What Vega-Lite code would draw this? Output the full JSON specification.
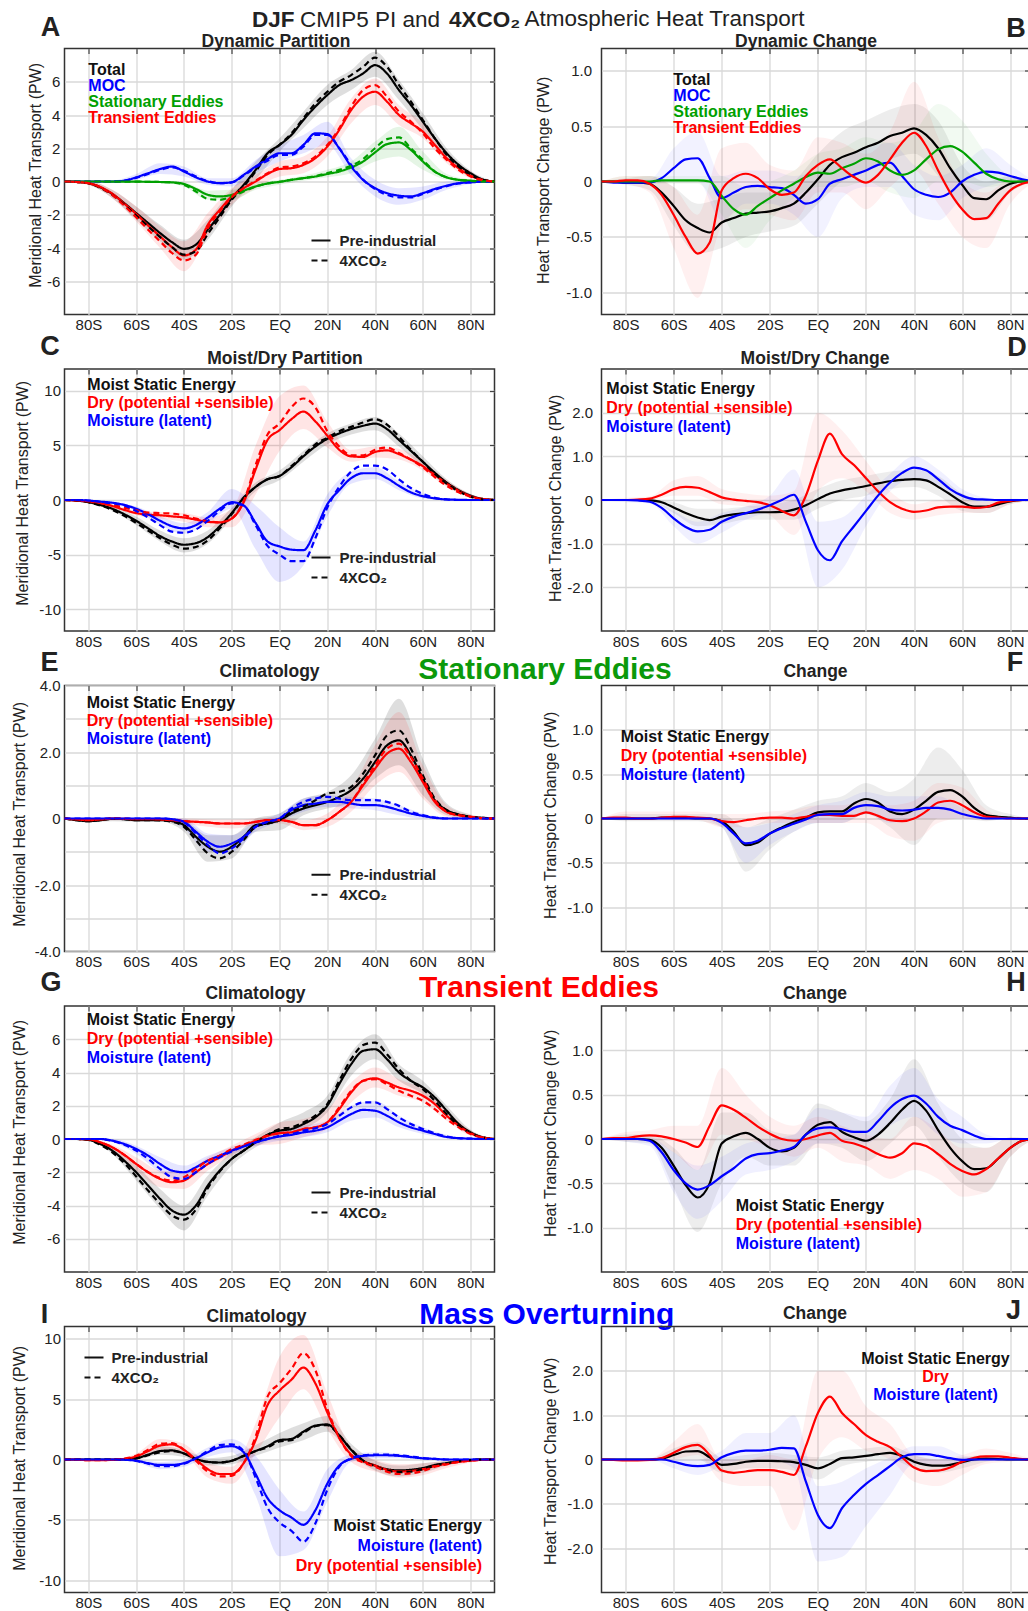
{
"$schema": "https://vega.github.io/schema/vega-lite/v6.json",
"padding": {"left": 9.5, "top": 6.5, "right": 0, "bottom": 0},
"background": "white",
"config": {
  "font": "Liberation Sans",
  "view": {"stroke": "#333333", "strokeWidth": 1.5},
  "axis": {"labelFont": "Liberation Sans", "titleFont": "Liberation Sans", "labelColor": "#222222", "titleColor": "#222222", "gridColor": "#d9d9d9", "gridWidth": 1.3, "domain": false, "ticks": false, "tickColor": "#444444", "tickWidth": 1.2, "labelFontSize": 15, "titleLimit": 800, "labelLimit": 200},
  "legend": {"labelFont": "Liberation Sans", "titleFont": "Liberation Sans", "padding": 0, "labelLimit": 800, "titleLimit": 800}
},
"datasets": {
"A_pi": [
{"lat":-90,"Total":0,"MOC":0,"Stationary Eddies":0,"Transient Eddies":0},
{"lat":-85,"Total":-0.03,"MOC":0,"Stationary Eddies":0,"Transient Eddies":-0.03},
{"lat":-80,"Total":-0.1,"MOC":0,"Stationary Eddies":0,"Transient Eddies":-0.1},
{"lat":-75,"Total":-0.35,"MOC":0,"Stationary Eddies":0,"Transient Eddies":-0.33},
{"lat":-70,"Total":-0.75,"MOC":0,"Stationary Eddies":-0.01,"Transient Eddies":-0.73},
{"lat":-65,"Total":-1.3,"MOC":0.05,"Stationary Eddies":-0.01,"Transient Eddies":-1.33},
{"lat":-60,"Total":-1.9,"MOC":0.25,"Stationary Eddies":-0.01,"Transient Eddies":-1.95},
{"lat":-55,"Total":-2.5,"MOC":0.5,"Stationary Eddies":-0.02,"Transient Eddies":-2.65},
{"lat":-50,"Total":-3.1,"MOC":0.75,"Stationary Eddies":-0.03,"Transient Eddies":-3.3},
{"lat":-45,"Total":-3.65,"MOC":0.9,"Stationary Eddies":-0.05,"Transient Eddies":-3.95},
{"lat":-40,"Total":-4.05,"MOC":0.6,"Stationary Eddies":-0.15,"Transient Eddies":-4.45},
{"lat":-35,"Total":-3.8,"MOC":0.25,"Stationary Eddies":-0.45,"Transient Eddies":-4.1},
{"lat":-30,"Total":-2.9,"MOC":0,"Stationary Eddies":-0.8,"Transient Eddies":-2.6},
{"lat":-25,"Total":-2,"MOC":-0.1,"Stationary Eddies":-0.9,"Transient Eddies":-1.7},
{"lat":-20,"Total":-1,"MOC":-0.05,"Stationary Eddies":-0.8,"Transient Eddies":-0.9},
{"lat":-15,"Total":-0.2,"MOC":0.4,"Stationary Eddies":-0.55,"Transient Eddies":-0.4},
{"lat":-10,"Total":0.7,"MOC":0.9,"Stationary Eddies":-0.3,"Transient Eddies":0},
{"lat":-5,"Total":1.7,"MOC":1.35,"Stationary Eddies":-0.12,"Transient Eddies":0.45},
{"lat":0,"Total":2.2,"MOC":1.7,"Stationary Eddies":-0.02,"Transient Eddies":0.75},
{"lat":5,"Total":2.8,"MOC":1.7,"Stationary Eddies":0.1,"Transient Eddies":0.8},
{"lat":10,"Total":3.7,"MOC":2.2,"Stationary Eddies":0.2,"Transient Eddies":1},
{"lat":15,"Total":4.5,"MOC":2.9,"Stationary Eddies":0.3,"Transient Eddies":1.4},
{"lat":20,"Total":5.2,"MOC":2.85,"Stationary Eddies":0.45,"Transient Eddies":2.1},
{"lat":25,"Total":5.8,"MOC":2,"Stationary Eddies":0.6,"Transient Eddies":3.1},
{"lat":30,"Total":6.1,"MOC":0.9,"Stationary Eddies":0.85,"Transient Eddies":4.3},
{"lat":35,"Total":6.5,"MOC":0.1,"Stationary Eddies":1.2,"Transient Eddies":5.1},
{"lat":40,"Total":7,"MOC":-0.4,"Stationary Eddies":1.75,"Transient Eddies":5.4},
{"lat":45,"Total":6.5,"MOC":-0.7,"Stationary Eddies":2.25,"Transient Eddies":4.8},
{"lat":50,"Total":5.5,"MOC":-0.85,"Stationary Eddies":2.35,"Transient Eddies":4},
{"lat":55,"Total":4.6,"MOC":-0.9,"Stationary Eddies":1.9,"Transient Eddies":3.5},
{"lat":60,"Total":3.6,"MOC":-0.7,"Stationary Eddies":1.2,"Transient Eddies":3},
{"lat":65,"Total":2.6,"MOC":-0.45,"Stationary Eddies":0.6,"Transient Eddies":2.2},
{"lat":70,"Total":1.7,"MOC":-0.25,"Stationary Eddies":0.25,"Transient Eddies":1.4},
{"lat":75,"Total":1,"MOC":-0.1,"Stationary Eddies":0.1,"Transient Eddies":0.8},
{"lat":80,"Total":0.5,"MOC":-0.05,"Stationary Eddies":0.05,"Transient Eddies":0.35},
{"lat":85,"Total":0.12,"MOC":-0.01,"Stationary Eddies":0.01,"Transient Eddies":0.1},
{"lat":90,"Total":0,"MOC":0,"Stationary Eddies":0,"Transient Eddies":0}
],
"A_4x": [
{"lat":-90,"Total":0,"MOC":0,"Stationary Eddies":0,"Transient Eddies":0},
{"lat":-85,"Total":-0.03,"MOC":0,"Stationary Eddies":0,"Transient Eddies":-0.03},
{"lat":-80,"Total":-0.1,"MOC":0,"Stationary Eddies":0,"Transient Eddies":-0.1},
{"lat":-75,"Total":-0.38,"MOC":0,"Stationary Eddies":0,"Transient Eddies":-0.36},
{"lat":-70,"Total":-0.8,"MOC":0,"Stationary Eddies":-0.01,"Transient Eddies":-0.8},
{"lat":-65,"Total":-1.4,"MOC":0.05,"Stationary Eddies":-0.01,"Transient Eddies":-1.45},
{"lat":-60,"Total":-2.05,"MOC":0.22,"Stationary Eddies":-0.01,"Transient Eddies":-2.15},
{"lat":-55,"Total":-2.7,"MOC":0.45,"Stationary Eddies":-0.02,"Transient Eddies":-2.9},
{"lat":-50,"Total":-3.35,"MOC":0.7,"Stationary Eddies":-0.03,"Transient Eddies":-3.6},
{"lat":-45,"Total":-3.95,"MOC":0.85,"Stationary Eddies":-0.06,"Transient Eddies":-4.3},
{"lat":-40,"Total":-4.4,"MOC":0.65,"Stationary Eddies":-0.2,"Transient Eddies":-4.75},
{"lat":-35,"Total":-4.2,"MOC":0.3,"Stationary Eddies":-0.6,"Transient Eddies":-4.4},
{"lat":-30,"Total":-3.15,"MOC":0.02,"Stationary Eddies":-1.05,"Transient Eddies":-2.8},
{"lat":-25,"Total":-2.15,"MOC":-0.1,"Stationary Eddies":-1.1,"Transient Eddies":-1.8},
{"lat":-20,"Total":-1.1,"MOC":-0.05,"Stationary Eddies":-0.9,"Transient Eddies":-0.95},
{"lat":-15,"Total":-0.3,"MOC":0.35,"Stationary Eddies":-0.6,"Transient Eddies":-0.4},
{"lat":-10,"Total":0.6,"MOC":0.85,"Stationary Eddies":-0.3,"Transient Eddies":0.05},
{"lat":-5,"Total":1.6,"MOC":1.25,"Stationary Eddies":-0.12,"Transient Eddies":0.5},
{"lat":0,"Total":2.2,"MOC":1.6,"Stationary Eddies":-0.02,"Transient Eddies":0.85},
{"lat":5,"Total":2.9,"MOC":1.6,"Stationary Eddies":0.1,"Transient Eddies":0.9},
{"lat":10,"Total":3.8,"MOC":2.1,"Stationary Eddies":0.2,"Transient Eddies":1.1},
{"lat":15,"Total":4.7,"MOC":2.8,"Stationary Eddies":0.32,"Transient Eddies":1.5},
{"lat":20,"Total":5.4,"MOC":2.8,"Stationary Eddies":0.5,"Transient Eddies":2.2},
{"lat":25,"Total":6,"MOC":2,"Stationary Eddies":0.7,"Transient Eddies":3.2},
{"lat":30,"Total":6.4,"MOC":1,"Stationary Eddies":0.95,"Transient Eddies":4.5},
{"lat":35,"Total":6.9,"MOC":0.1,"Stationary Eddies":1.35,"Transient Eddies":5.5},
{"lat":40,"Total":7.45,"MOC":-0.45,"Stationary Eddies":2,"Transient Eddies":5.8},
{"lat":45,"Total":6.9,"MOC":-0.8,"Stationary Eddies":2.55,"Transient Eddies":5.1},
{"lat":50,"Total":5.8,"MOC":-0.95,"Stationary Eddies":2.65,"Transient Eddies":4.2},
{"lat":55,"Total":4.8,"MOC":-0.95,"Stationary Eddies":2,"Transient Eddies":3.6},
{"lat":60,"Total":3.7,"MOC":-0.75,"Stationary Eddies":1.3,"Transient Eddies":2.9},
{"lat":65,"Total":2.6,"MOC":-0.5,"Stationary Eddies":0.6,"Transient Eddies":2},
{"lat":70,"Total":1.6,"MOC":-0.28,"Stationary Eddies":0.25,"Transient Eddies":1.3},
{"lat":75,"Total":0.9,"MOC":-0.12,"Stationary Eddies":0.1,"Transient Eddies":0.7},
{"lat":80,"Total":0.4,"MOC":-0.05,"Stationary Eddies":0.04,"Transient Eddies":0.3},
{"lat":85,"Total":0.1,"MOC":-0.01,"Stationary Eddies":0.01,"Transient Eddies":0.08},
{"lat":90,"Total":0,"MOC":0,"Stationary Eddies":0,"Transient Eddies":0}
],
"A_sp": [
{"lat":-90,"t_lo":0,"t_hi":0,"e_lo":0,"e_hi":0,"m_lo":0,"m_hi":0,"s_lo":0,"s_hi":0},
{"lat":-80,"t_lo":-0.2,"t_hi":0,"e_lo":-0.2,"e_hi":0,"m_lo":0,"m_hi":0,"s_lo":-0.05,"s_hi":0.03},
{"lat":-70,"t_lo":-1,"t_hi":-0.5,"e_lo":-1,"e_hi":-0.5,"m_lo":-0.05,"m_hi":0.05,"s_lo":-0.05,"s_hi":0.03},
{"lat":-60,"t_lo":-2.3,"t_hi":-1.5,"e_lo":-2.4,"e_hi":-1.5,"m_lo":0.1,"m_hi":0.45,"s_lo":-0.05,"s_hi":0.03},
{"lat":-50,"t_lo":-3.6,"t_hi":-2.6,"e_lo":-4,"e_hi":-2.7,"m_lo":0.45,"m_hi":1.1,"s_lo":-0.08,"s_hi":0.02},
{"lat":-40,"t_lo":-4.7,"t_hi":-3.5,"e_lo":-5.4,"e_hi":-3.6,"m_lo":0.3,"m_hi":0.9,"s_lo":-0.3,"s_hi":-0.05},
{"lat":-30,"t_lo":-3.5,"t_hi":-2.3,"e_lo":-3.3,"e_hi":-1.9,"m_lo":-0.2,"m_hi":0.2,"s_lo":-1.1,"s_hi":-0.55},
{"lat":-20,"t_lo":-1.5,"t_hi":-0.5,"e_lo":-1.4,"e_hi":-0.4,"m_lo":-0.3,"m_hi":0.2,"s_lo":-1.1,"s_hi":-0.5},
{"lat":-10,"t_lo":0.1,"t_hi":1.2,"e_lo":-0.4,"e_hi":0.4,"m_lo":0.5,"m_hi":1.3,"s_lo":-0.5,"s_hi":-0.1},
{"lat":0,"t_lo":1.8,"t_hi":2.6,"e_lo":0.3,"e_hi":1.2,"m_lo":1.2,"m_hi":2.2,"s_lo":-0.2,"s_hi":0.1},
{"lat":10,"t_lo":3.2,"t_hi":4.2,"e_lo":0.5,"e_hi":1.5,"m_lo":1.7,"m_hi":2.8,"s_lo":0.05,"s_hi":0.35},
{"lat":20,"t_lo":4.6,"t_hi":5.8,"e_lo":1.5,"e_hi":2.7,"m_lo":2.2,"m_hi":3.6,"s_lo":0.25,"s_hi":0.7},
{"lat":30,"t_lo":5.5,"t_hi":6.7,"e_lo":3.5,"e_hi":5,"m_lo":0.4,"m_hi":1.4,"s_lo":0.5,"s_hi":1.2},
{"lat":40,"t_lo":6.3,"t_hi":7.8,"e_lo":4.6,"e_hi":6.2,"m_lo":-0.9,"m_hi":0.1,"s_lo":1.2,"s_hi":2.4},
{"lat":50,"t_lo":4.9,"t_hi":6.1,"e_lo":3.4,"e_hi":4.6,"m_lo":-1.4,"m_hi":-0.4,"s_lo":1.5,"s_hi":3.3},
{"lat":60,"t_lo":3.1,"t_hi":4.1,"e_lo":2.6,"e_hi":3.5,"m_lo":-1.1,"m_hi":-0.3,"s_lo":0.7,"s_hi":1.8},
{"lat":70,"t_lo":1.4,"t_hi":2,"e_lo":1.1,"e_hi":1.7,"m_lo":-0.5,"m_hi":0,"s_lo":0.1,"s_hi":0.45},
{"lat":80,"t_lo":0.35,"t_hi":0.65,"e_lo":0.2,"e_hi":0.5,"m_lo":-0.15,"m_hi":0.05,"s_lo":0,"s_hi":0.12},
{"lat":90,"t_lo":0,"t_hi":0,"e_lo":0,"e_hi":0,"m_lo":0,"m_hi":0,"s_lo":0,"s_hi":0}
],
"B": [
{"lat":-90,"Total":0,"MOC":0,"Stationary Eddies":0,"Transient Eddies":0},
{"lat":-85,"Total":0,"MOC":-0.01,"Stationary Eddies":0,"Transient Eddies":0},
{"lat":-80,"Total":-0.01,"MOC":-0.01,"Stationary Eddies":0,"Transient Eddies":0.01},
{"lat":-75,"Total":-0.01,"MOC":-0.01,"Stationary Eddies":0,"Transient Eddies":0.01},
{"lat":-70,"Total":-0.02,"MOC":-0.01,"Stationary Eddies":0,"Transient Eddies":-0.02},
{"lat":-65,"Total":-0.1,"MOC":0.03,"Stationary Eddies":0.01,"Transient Eddies":-0.12},
{"lat":-60,"Total":-0.22,"MOC":0.12,"Stationary Eddies":0.01,"Transient Eddies":-0.3},
{"lat":-55,"Total":-0.35,"MOC":0.2,"Stationary Eddies":0.01,"Transient Eddies":-0.5},
{"lat":-50,"Total":-0.42,"MOC":0.21,"Stationary Eddies":0.01,"Transient Eddies":-0.65},
{"lat":-45,"Total":-0.46,"MOC":0.03,"Stationary Eddies":0,"Transient Eddies":-0.55},
{"lat":-40,"Total":-0.37,"MOC":-0.15,"Stationary Eddies":-0.13,"Transient Eddies":-0.08},
{"lat":-35,"Total":-0.33,"MOC":-0.1,"Stationary Eddies":-0.25,"Transient Eddies":0.03},
{"lat":-30,"Total":-0.29,"MOC":-0.05,"Stationary Eddies":-0.3,"Transient Eddies":0.07},
{"lat":-25,"Total":-0.28,"MOC":-0.04,"Stationary Eddies":-0.22,"Transient Eddies":0.03},
{"lat":-20,"Total":-0.27,"MOC":-0.05,"Stationary Eddies":-0.15,"Transient Eddies":-0.07},
{"lat":-15,"Total":-0.24,"MOC":-0.06,"Stationary Eddies":-0.08,"Transient Eddies":-0.12},
{"lat":-10,"Total":-0.2,"MOC":-0.12,"Stationary Eddies":-0.02,"Transient Eddies":-0.1},
{"lat":-5,"Total":-0.1,"MOC":-0.2,"Stationary Eddies":0.04,"Transient Eddies":0.05},
{"lat":0,"Total":0.02,"MOC":-0.16,"Stationary Eddies":0.08,"Transient Eddies":0.15},
{"lat":5,"Total":0.15,"MOC":-0.02,"Stationary Eddies":0.07,"Transient Eddies":0.2},
{"lat":10,"Total":0.22,"MOC":0.02,"Stationary Eddies":0.12,"Transient Eddies":0.12},
{"lat":15,"Total":0.26,"MOC":0.06,"Stationary Eddies":0.16,"Transient Eddies":0.04},
{"lat":20,"Total":0.31,"MOC":0.1,"Stationary Eddies":0.21,"Transient Eddies":-0.01},
{"lat":25,"Total":0.35,"MOC":0.15,"Stationary Eddies":0.18,"Transient Eddies":0.06},
{"lat":30,"Total":0.41,"MOC":0.17,"Stationary Eddies":0.1,"Transient Eddies":0.2},
{"lat":35,"Total":0.44,"MOC":0.05,"Stationary Eddies":0.06,"Transient Eddies":0.35},
{"lat":40,"Total":0.48,"MOC":-0.07,"Stationary Eddies":0.1,"Transient Eddies":0.44},
{"lat":45,"Total":0.42,"MOC":-0.12,"Stationary Eddies":0.2,"Transient Eddies":0.32},
{"lat":50,"Total":0.3,"MOC":-0.14,"Stationary Eddies":0.29,"Transient Eddies":0.1},
{"lat":55,"Total":0.12,"MOC":-0.1,"Stationary Eddies":0.32,"Transient Eddies":-0.1},
{"lat":60,"Total":-0.03,"MOC":0,"Stationary Eddies":0.27,"Transient Eddies":-0.25},
{"lat":65,"Total":-0.15,"MOC":0.06,"Stationary Eddies":0.17,"Transient Eddies":-0.34},
{"lat":70,"Total":-0.16,"MOC":0.09,"Stationary Eddies":0.07,"Transient Eddies":-0.33},
{"lat":75,"Total":-0.08,"MOC":0.08,"Stationary Eddies":0.02,"Transient Eddies":-0.2},
{"lat":80,"Total":-0.02,"MOC":0.05,"Stationary Eddies":0,"Transient Eddies":-0.08},
{"lat":85,"Total":0,"MOC":0.02,"Stationary Eddies":0,"Transient Eddies":-0.02},
{"lat":90,"Total":0,"MOC":0,"Stationary Eddies":0,"Transient Eddies":0}
],
"B_sp": [
{"lat":-90,"t_lo":0,"t_hi":0,"e_lo":0,"e_hi":0,"m_lo":0,"m_hi":0,"s_lo":0,"s_hi":0},
{"lat":-80,"t_lo":-0.03,"t_hi":0.03,"e_lo":-0.02,"e_hi":0.05,"m_lo":-0.02,"m_hi":0.02,"s_lo":-0.02,"s_hi":0.05},
{"lat":-70,"t_lo":-0.08,"t_hi":0.05,"e_lo":-0.1,"e_hi":0.05,"m_lo":-0.02,"m_hi":0.02,"s_lo":-0.02,"s_hi":0.05},
{"lat":-60,"t_lo":-0.4,"t_hi":-0.05,"e_lo":-0.6,"e_hi":-0.05,"m_lo":0,"m_hi":0.3,"s_lo":-0.02,"s_hi":0.05},
{"lat":-50,"t_lo":-0.65,"t_hi":-0.2,"e_lo":-1.05,"e_hi":-0.3,"m_lo":0,"m_hi":0.45,"s_lo":-0.02,"s_hi":0.05},
{"lat":-40,"t_lo":-0.6,"t_hi":-0.15,"e_lo":-0.4,"e_hi":0.3,"m_lo":-0.35,"m_hi":0.05,"s_lo":-0.3,"s_hi":0.05},
{"lat":-30,"t_lo":-0.5,"t_hi":-0.1,"e_lo":-0.25,"e_hi":0.35,"m_lo":-0.2,"m_hi":0.1,"s_lo":-0.6,"s_hi":-0.05},
{"lat":-20,"t_lo":-0.45,"t_hi":-0.1,"e_lo":-0.3,"e_hi":0.15,"m_lo":-0.2,"m_hi":0.1,"s_lo":-0.35,"s_hi":0},
{"lat":-10,"t_lo":-0.4,"t_hi":0,"e_lo":-0.35,"e_hi":0.1,"m_lo":-0.3,"m_hi":0.05,"s_lo":-0.15,"s_hi":0.1},
{"lat":0,"t_lo":-0.2,"t_hi":0.25,"e_lo":-0.1,"e_hi":0.4,"m_lo":-0.5,"m_hi":0.1,"s_lo":-0.05,"s_hi":0.25},
{"lat":10,"t_lo":0,"t_hi":0.45,"e_lo":-0.1,"e_hi":0.35,"m_lo":-0.15,"m_hi":0.2,"s_lo":-0.05,"s_hi":0.3},
{"lat":20,"t_lo":0.1,"t_hi":0.55,"e_lo":-0.25,"e_hi":0.25,"m_lo":-0.05,"m_hi":0.3,"s_lo":0,"s_hi":0.4},
{"lat":30,"t_lo":0.2,"t_hi":0.65,"e_lo":-0.05,"e_hi":0.45,"m_lo":-0.05,"m_hi":0.35,"s_lo":-0.1,"s_hi":0.35},
{"lat":40,"t_lo":0.25,"t_hi":0.7,"e_lo":0.1,"e_hi":0.9,"m_lo":-0.3,"m_hi":0.15,"s_lo":-0.15,"s_hi":0.45},
{"lat":50,"t_lo":0.05,"t_hi":0.55,"e_lo":-0.2,"e_hi":0.4,"m_lo":-0.35,"m_hi":0.05,"s_lo":0,"s_hi":0.7},
{"lat":60,"t_lo":-0.25,"t_hi":0.15,"e_lo":-0.5,"e_hi":0,"m_lo":-0.15,"m_hi":0.15,"s_lo":0,"s_hi":0.55},
{"lat":70,"t_lo":-0.35,"t_hi":0,"e_lo":-0.6,"e_hi":-0.1,"m_lo":-0.05,"m_hi":0.3,"s_lo":-0.05,"s_hi":0.25},
{"lat":80,"t_lo":-0.1,"t_hi":0.05,"e_lo":-0.2,"e_hi":0.02,"m_lo":0,"m_hi":0.15,"s_lo":-0.02,"s_hi":0.05},
{"lat":90,"t_lo":0,"t_hi":0,"e_lo":0,"e_hi":0,"m_lo":0,"m_hi":0,"s_lo":0,"s_hi":0}
],
"C_pi": [
{"lat":-90,"Moist Static Energy":0,"Dry (potential +sensible)":0,"Moisture (latent)":0},
{"lat":-85,"Moist Static Energy":-0.05,"Dry (potential +sensible)":-0.05,"Moisture (latent)":0},
{"lat":-80,"Moist Static Energy":-0.2,"Dry (potential +sensible)":-0.15,"Moisture (latent)":-0.05},
{"lat":-75,"Moist Static Energy":-0.45,"Dry (potential +sensible)":-0.3,"Moisture (latent)":-0.15},
{"lat":-70,"Moist Static Energy":-0.8,"Dry (potential +sensible)":-0.55,"Moisture (latent)":-0.25},
{"lat":-65,"Moist Static Energy":-1.3,"Dry (potential +sensible)":-0.9,"Moisture (latent)":-0.45},
{"lat":-60,"Moist Static Energy":-1.9,"Dry (potential +sensible)":-1.2,"Moisture (latent)":-0.8},
{"lat":-55,"Moist Static Energy":-2.6,"Dry (potential +sensible)":-1.35,"Moisture (latent)":-1.3},
{"lat":-50,"Moist Static Energy":-3.3,"Dry (potential +sensible)":-1.4,"Moisture (latent)":-1.9},
{"lat":-45,"Moist Static Energy":-3.8,"Dry (potential +sensible)":-1.5,"Moisture (latent)":-2.4},
{"lat":-40,"Moist Static Energy":-4.1,"Dry (potential +sensible)":-1.6,"Moisture (latent)":-2.6},
{"lat":-35,"Moist Static Energy":-3.95,"Dry (potential +sensible)":-1.8,"Moisture (latent)":-2.3},
{"lat":-30,"Moist Static Energy":-3.4,"Dry (potential +sensible)":-2,"Moisture (latent)":-1.6},
{"lat":-25,"Moist Static Energy":-2.4,"Dry (potential +sensible)":-2.05,"Moisture (latent)":-0.8},
{"lat":-20,"Moist Static Energy":-1.2,"Dry (potential +sensible)":-1.7,"Moisture (latent)":-0.2},
{"lat":-15,"Moist Static Energy":0.2,"Dry (potential +sensible)":-0.2,"Moisture (latent)":-0.5},
{"lat":-10,"Moist Static Energy":1.2,"Dry (potential +sensible)":2.8,"Moisture (latent)":-2.1},
{"lat":-5,"Moist Static Energy":1.9,"Dry (potential +sensible)":5.5,"Moisture (latent)":-3.8},
{"lat":0,"Moist Static Energy":2.2,"Dry (potential +sensible)":6.4,"Moisture (latent)":-4.25},
{"lat":5,"Moist Static Energy":3,"Dry (potential +sensible)":7.4,"Moisture (latent)":-4.55},
{"lat":10,"Moist Static Energy":4,"Dry (potential +sensible)":8.1,"Moisture (latent)":-4.6},
{"lat":15,"Moist Static Energy":4.9,"Dry (potential +sensible)":7.2,"Moisture (latent)":-2.8},
{"lat":20,"Moist Static Energy":5.6,"Dry (potential +sensible)":5.9,"Moisture (latent)":-0.4},
{"lat":25,"Moist Static Energy":6.1,"Dry (potential +sensible)":4.6,"Moisture (latent)":0.9},
{"lat":30,"Moist Static Energy":6.5,"Dry (potential +sensible)":4,"Moisture (latent)":2},
{"lat":35,"Moist Static Energy":6.8,"Dry (potential +sensible)":3.95,"Moisture (latent)":2.45},
{"lat":40,"Moist Static Energy":7,"Dry (potential +sensible)":4.4,"Moisture (latent)":2.45},
{"lat":45,"Moist Static Energy":6.5,"Dry (potential +sensible)":4.55,"Moisture (latent)":2},
{"lat":50,"Moist Static Energy":5.5,"Dry (potential +sensible)":4.2,"Moisture (latent)":1.3},
{"lat":55,"Moist Static Energy":4.5,"Dry (potential +sensible)":3.7,"Moisture (latent)":0.7},
{"lat":60,"Moist Static Energy":3.5,"Dry (potential +sensible)":3.1,"Moisture (latent)":0.35},
{"lat":65,"Moist Static Energy":2.5,"Dry (potential +sensible)":2.3,"Moisture (latent)":0.15},
{"lat":70,"Moist Static Energy":1.6,"Dry (potential +sensible)":1.5,"Moisture (latent)":0.05},
{"lat":75,"Moist Static Energy":0.9,"Dry (potential +sensible)":0.85,"Moisture (latent)":0.02},
{"lat":80,"Moist Static Energy":0.4,"Dry (potential +sensible)":0.35,"Moisture (latent)":0},
{"lat":85,"Moist Static Energy":0.1,"Dry (potential +sensible)":0.1,"Moisture (latent)":0},
{"lat":90,"Moist Static Energy":0,"Dry (potential +sensible)":0,"Moisture (latent)":0}
],
"C_4x": [
{"lat":-90,"Moist Static Energy":0,"Dry (potential +sensible)":0,"Moisture (latent)":0},
{"lat":-85,"Moist Static Energy":-0.05,"Dry (potential +sensible)":-0.04,"Moisture (latent)":0},
{"lat":-80,"Moist Static Energy":-0.2,"Dry (potential +sensible)":-0.12,"Moisture (latent)":-0.05},
{"lat":-75,"Moist Static Energy":-0.5,"Dry (potential +sensible)":-0.25,"Moisture (latent)":-0.17},
{"lat":-70,"Moist Static Energy":-0.9,"Dry (potential +sensible)":-0.45,"Moisture (latent)":-0.3},
{"lat":-65,"Moist Static Energy":-1.45,"Dry (potential +sensible)":-0.7,"Moisture (latent)":-0.5},
{"lat":-60,"Moist Static Energy":-2.1,"Dry (potential +sensible)":-0.95,"Moisture (latent)":-1},
{"lat":-55,"Moist Static Energy":-2.8,"Dry (potential +sensible)":-1.15,"Moisture (latent)":-1.6},
{"lat":-50,"Moist Static Energy":-3.5,"Dry (potential +sensible)":-1.2,"Moisture (latent)":-2.3},
{"lat":-45,"Moist Static Energy":-4.1,"Dry (potential +sensible)":-1.25,"Moisture (latent)":-2.9},
{"lat":-40,"Moist Static Energy":-4.45,"Dry (potential +sensible)":-1.4,"Moisture (latent)":-3},
{"lat":-35,"Moist Static Energy":-4.3,"Dry (potential +sensible)":-1.7,"Moisture (latent)":-2.7},
{"lat":-30,"Moist Static Energy":-3.7,"Dry (potential +sensible)":-1.95,"Moisture (latent)":-1.9},
{"lat":-25,"Moist Static Energy":-2.6,"Dry (potential +sensible)":-2.05,"Moisture (latent)":-1},
{"lat":-20,"Moist Static Energy":-1.3,"Dry (potential +sensible)":-1.7,"Moisture (latent)":-0.3},
{"lat":-15,"Moist Static Energy":0.2,"Dry (potential +sensible)":-0.1,"Moisture (latent)":-0.5},
{"lat":-10,"Moist Static Energy":1.2,"Dry (potential +sensible)":3.2,"Moisture (latent)":-2.3},
{"lat":-5,"Moist Static Energy":1.9,"Dry (potential +sensible)":6,"Moisture (latent)":-4.2},
{"lat":0,"Moist Static Energy":2.2,"Dry (potential +sensible)":7,"Moisture (latent)":-5},
{"lat":5,"Moist Static Energy":3.1,"Dry (potential +sensible)":8.5,"Moisture (latent)":-5.6},
{"lat":10,"Moist Static Energy":4.1,"Dry (potential +sensible)":9.3,"Moisture (latent)":-5.6},
{"lat":15,"Moist Static Energy":5.1,"Dry (potential +sensible)":8.5,"Moisture (latent)":-3.5},
{"lat":20,"Moist Static Energy":5.7,"Dry (potential +sensible)":6.3,"Moisture (latent)":-0.7},
{"lat":25,"Moist Static Energy":6.3,"Dry (potential +sensible)":4.9,"Moisture (latent)":1.2},
{"lat":30,"Moist Static Energy":6.7,"Dry (potential +sensible)":4.1,"Moisture (latent)":2.6},
{"lat":35,"Moist Static Energy":7.1,"Dry (potential +sensible)":4.1,"Moisture (latent)":3.15},
{"lat":40,"Moist Static Energy":7.4,"Dry (potential +sensible)":4.6,"Moisture (latent)":3.15},
{"lat":45,"Moist Static Energy":6.9,"Dry (potential +sensible)":4.8,"Moisture (latent)":2.8},
{"lat":50,"Moist Static Energy":5.8,"Dry (potential +sensible)":4.3,"Moisture (latent)":1.9},
{"lat":55,"Moist Static Energy":4.6,"Dry (potential +sensible)":3.7,"Moisture (latent)":1.1},
{"lat":60,"Moist Static Energy":3.5,"Dry (potential +sensible)":3,"Moisture (latent)":0.55},
{"lat":65,"Moist Static Energy":2.4,"Dry (potential +sensible)":2.1,"Moisture (latent)":0.2},
{"lat":70,"Moist Static Energy":1.5,"Dry (potential +sensible)":1.3,"Moisture (latent)":0.05},
{"lat":75,"Moist Static Energy":0.8,"Dry (potential +sensible)":0.7,"Moisture (latent)":0},
{"lat":80,"Moist Static Energy":0.3,"Dry (potential +sensible)":0.3,"Moisture (latent)":0},
{"lat":85,"Moist Static Energy":0.05,"Dry (potential +sensible)":0.05,"Moisture (latent)":0},
{"lat":90,"Moist Static Energy":0,"Dry (potential +sensible)":0,"Moisture (latent)":0}
],
"C_sp": [
{"lat":-90,"k_lo":0,"k_hi":0,"r_lo":0,"r_hi":0,"b_lo":0,"b_hi":0},
{"lat":-80,"k_lo":-0.3,"k_hi":-0.1,"r_lo":-0.2,"r_hi":-0.1,"b_lo":-0.1,"b_hi":0},
{"lat":-70,"k_lo":-1,"k_hi":-0.6,"r_lo":-0.7,"r_hi":-0.4,"b_lo":-0.35,"b_hi":-0.15},
{"lat":-60,"k_lo":-2.3,"k_hi":-1.5,"r_lo":-1.4,"r_hi":-1,"b_lo":-1,"b_hi":-0.6},
{"lat":-50,"k_lo":-3.8,"k_hi":-2.8,"r_lo":-1.7,"r_hi":-1.1,"b_lo":-2.3,"b_hi":-1.5},
{"lat":-40,"k_lo":-4.8,"k_hi":-3.5,"r_lo":-2,"r_hi":-1.2,"b_lo":-3.1,"b_hi":-2.1},
{"lat":-30,"k_lo":-4,"k_hi":-2.8,"r_lo":-2.5,"r_hi":-1.6,"b_lo":-2.1,"b_hi":-1.1},
{"lat":-20,"k_lo":-1.7,"k_hi":-0.7,"r_lo":-2.5,"r_hi":-0.8,"b_lo":-0.8,"b_hi":1},
{"lat":-10,"k_lo":0.8,"k_hi":1.6,"r_lo":0.5,"r_hi":5,"b_lo":-4.5,"b_hi":-0.5},
{"lat":0,"k_lo":1.8,"k_hi":2.7,"r_lo":4.5,"r_hi":9.5,"b_lo":-7.5,"b_hi":-2.5},
{"lat":10,"k_lo":3.5,"k_hi":4.5,"r_lo":6.5,"r_hi":10.5,"b_lo":-6,"b_hi":-3.8},
{"lat":20,"k_lo":5.1,"k_hi":6.1,"r_lo":4.8,"r_hi":7.2,"b_lo":-1.5,"b_hi":0.5},
{"lat":30,"k_lo":6,"k_hi":7,"r_lo":3.5,"r_hi":4.6,"b_lo":1.5,"b_hi":2.6},
{"lat":40,"k_lo":6.4,"k_hi":7.6,"r_lo":3.9,"r_hi":4.9,"b_lo":1.9,"b_hi":3},
{"lat":50,"k_lo":4.9,"k_hi":6.1,"r_lo":3.7,"r_hi":4.7,"b_lo":0.9,"b_hi":1.7},
{"lat":60,"k_lo":3,"k_hi":4,"r_lo":2.7,"r_hi":3.5,"b_lo":0.15,"b_hi":0.6},
{"lat":70,"k_lo":1.3,"k_hi":1.9,"r_lo":1.2,"r_hi":1.8,"b_lo":0,"b_hi":0.15},
{"lat":80,"k_lo":0.25,"k_hi":0.55,"r_lo":0.25,"r_hi":0.5,"b_lo":0,"b_hi":0.03},
{"lat":90,"k_lo":0,"k_hi":0,"r_lo":0,"r_hi":0,"b_lo":0,"b_hi":0}
],
"D": [
{"lat":-90,"Moist Static Energy":0,"Dry (potential +sensible)":0,"Moisture (latent)":0},
{"lat":-85,"Moist Static Energy":0,"Dry (potential +sensible)":0,"Moisture (latent)":0},
{"lat":-80,"Moist Static Energy":0,"Dry (potential +sensible)":0,"Moisture (latent)":0},
{"lat":-75,"Moist Static Energy":0,"Dry (potential +sensible)":0.01,"Moisture (latent)":-0.01},
{"lat":-70,"Moist Static Energy":-0.01,"Dry (potential +sensible)":0.03,"Moisture (latent)":-0.04},
{"lat":-65,"Moist Static Energy":-0.05,"Dry (potential +sensible)":0.12,"Moisture (latent)":-0.18},
{"lat":-60,"Moist Static Energy":-0.17,"Dry (potential +sensible)":0.25,"Moisture (latent)":-0.42},
{"lat":-55,"Moist Static Energy":-0.3,"Dry (potential +sensible)":0.3,"Moisture (latent)":-0.62},
{"lat":-50,"Moist Static Energy":-0.4,"Dry (potential +sensible)":0.28,"Moisture (latent)":-0.72},
{"lat":-45,"Moist Static Energy":-0.46,"Dry (potential +sensible)":0.18,"Moisture (latent)":-0.68},
{"lat":-40,"Moist Static Energy":-0.38,"Dry (potential +sensible)":0.06,"Moisture (latent)":-0.5},
{"lat":-35,"Moist Static Energy":-0.33,"Dry (potential +sensible)":0.01,"Moisture (latent)":-0.38},
{"lat":-30,"Moist Static Energy":-0.3,"Dry (potential +sensible)":-0.02,"Moisture (latent)":-0.3},
{"lat":-25,"Moist Static Energy":-0.28,"Dry (potential +sensible)":-0.05,"Moisture (latent)":-0.22},
{"lat":-20,"Moist Static Energy":-0.28,"Dry (potential +sensible)":-0.12,"Moisture (latent)":-0.12},
{"lat":-15,"Moist Static Energy":-0.27,"Dry (potential +sensible)":-0.25,"Moisture (latent)":0},
{"lat":-10,"Moist Static Energy":-0.22,"Dry (potential +sensible)":-0.35,"Moisture (latent)":0.12},
{"lat":-5,"Moist Static Energy":-0.12,"Dry (potential +sensible)":0.1,"Moisture (latent)":-0.5},
{"lat":0,"Moist Static Energy":0.02,"Dry (potential +sensible)":0.9,"Moisture (latent)":-1.15},
{"lat":5,"Moist Static Energy":0.15,"Dry (potential +sensible)":1.52,"Moisture (latent)":-1.38},
{"lat":10,"Moist Static Energy":0.22,"Dry (potential +sensible)":1.05,"Moisture (latent)":-0.95},
{"lat":15,"Moist Static Energy":0.27,"Dry (potential +sensible)":0.8,"Moisture (latent)":-0.6},
{"lat":20,"Moist Static Energy":0.32,"Dry (potential +sensible)":0.5,"Moisture (latent)":-0.25},
{"lat":25,"Moist Static Energy":0.38,"Dry (potential +sensible)":0.2,"Moisture (latent)":0.1},
{"lat":30,"Moist Static Energy":0.43,"Dry (potential +sensible)":-0.05,"Moisture (latent)":0.4},
{"lat":35,"Moist Static Energy":0.46,"Dry (potential +sensible)":-0.2,"Moisture (latent)":0.62},
{"lat":40,"Moist Static Energy":0.48,"Dry (potential +sensible)":-0.27,"Moisture (latent)":0.74},
{"lat":45,"Moist Static Energy":0.45,"Dry (potential +sensible)":-0.24,"Moisture (latent)":0.68},
{"lat":50,"Moist Static Energy":0.3,"Dry (potential +sensible)":-0.17,"Moisture (latent)":0.48},
{"lat":55,"Moist Static Energy":0.13,"Dry (potential +sensible)":-0.15,"Moisture (latent)":0.25},
{"lat":60,"Moist Static Energy":-0.05,"Dry (potential +sensible)":-0.15,"Moisture (latent)":0.1},
{"lat":65,"Moist Static Energy":-0.15,"Dry (potential +sensible)":-0.18,"Moisture (latent)":0.02},
{"lat":70,"Moist Static Energy":-0.15,"Dry (potential +sensible)":-0.16,"Moisture (latent)":0.01},
{"lat":75,"Moist Static Energy":-0.1,"Dry (potential +sensible)":-0.06,"Moisture (latent)":0},
{"lat":80,"Moist Static Energy":-0.03,"Dry (potential +sensible)":-0.02,"Moisture (latent)":0},
{"lat":85,"Moist Static Energy":0,"Dry (potential +sensible)":0,"Moisture (latent)":0},
{"lat":90,"Moist Static Energy":0,"Dry (potential +sensible)":0,"Moisture (latent)":0}
],
"D_sp": [
{"lat":-90,"k_lo":0,"k_hi":0,"r_lo":0,"r_hi":0,"b_lo":0,"b_hi":0},
{"lat":-80,"k_lo":0,"k_hi":0,"r_lo":0,"r_hi":0.05,"b_lo":-0.05,"b_hi":0},
{"lat":-70,"k_lo":-0.03,"k_hi":0.02,"r_lo":0,"r_hi":0.08,"b_lo":-0.08,"b_hi":0},
{"lat":-60,"k_lo":-0.3,"k_hi":-0.05,"r_lo":0.1,"r_hi":0.45,"b_lo":-0.6,"b_hi":-0.25},
{"lat":-50,"k_lo":-0.6,"k_hi":-0.2,"r_lo":0.1,"r_hi":0.55,"b_lo":-1,"b_hi":-0.5},
{"lat":-40,"k_lo":-0.55,"k_hi":-0.2,"r_lo":-0.1,"r_hi":0.25,"b_lo":-0.75,"b_hi":-0.3},
{"lat":-30,"k_lo":-0.45,"k_hi":-0.15,"r_lo":-0.15,"r_hi":0.15,"b_lo":-0.45,"b_hi":-0.15},
{"lat":-20,"k_lo":-0.45,"k_hi":-0.1,"r_lo":-0.35,"r_hi":0.1,"b_lo":-0.3,"b_hi":0.1},
{"lat":-10,"k_lo":-0.45,"k_hi":0,"r_lo":-0.8,"r_hi":0.2,"b_lo":-0.3,"b_hi":0.7},
{"lat":0,"k_lo":-0.2,"k_hi":0.25,"r_lo":0.2,"r_hi":2,"b_lo":-2,"b_hi":-0.5},
{"lat":10,"k_lo":0,"k_hi":0.45,"r_lo":0.5,"r_hi":1.6,"b_lo":-1.6,"b_hi":-0.4},
{"lat":20,"k_lo":0.1,"k_hi":0.55,"r_lo":0.2,"r_hi":0.9,"b_lo":-0.6,"b_hi":0.1},
{"lat":30,"k_lo":0.25,"k_hi":0.65,"r_lo":-0.3,"r_hi":0.2,"b_lo":0.2,"b_hi":0.6},
{"lat":40,"k_lo":0.3,"k_hi":0.7,"r_lo":-0.45,"r_hi":-0.1,"b_lo":0.5,"b_hi":1},
{"lat":50,"k_lo":0.1,"k_hi":0.55,"r_lo":-0.35,"r_hi":0,"b_lo":0.3,"b_hi":0.7},
{"lat":60,"k_lo":-0.25,"k_hi":0.15,"r_lo":-0.3,"r_hi":0,"b_lo":0,"b_hi":0.25},
{"lat":70,"k_lo":-0.3,"k_hi":0,"r_lo":-0.3,"r_hi":-0.05,"b_lo":0,"b_hi":0.05},
{"lat":80,"k_lo":-0.1,"k_hi":0.03,"r_lo":-0.1,"r_hi":0.02,"b_lo":0,"b_hi":0},
{"lat":90,"k_lo":0,"k_hi":0,"r_lo":0,"r_hi":0,"b_lo":0,"b_hi":0}
],
"E_pi": [
{"lat":-90,"Moist Static Energy":0,"Dry (potential +sensible)":0,"Moisture (latent)":0},
{"lat":-85,"Moist Static Energy":-0.05,"Dry (potential +sensible)":-0.03,"Moisture (latent)":0},
{"lat":-80,"Moist Static Energy":-0.08,"Dry (potential +sensible)":-0.05,"Moisture (latent)":0},
{"lat":-75,"Moist Static Energy":-0.05,"Dry (potential +sensible)":-0.03,"Moisture (latent)":0},
{"lat":-70,"Moist Static Energy":-0.01,"Dry (potential +sensible)":0,"Moisture (latent)":0},
{"lat":-65,"Moist Static Energy":-0.02,"Dry (potential +sensible)":-0.01,"Moisture (latent)":0},
{"lat":-60,"Moist Static Energy":-0.05,"Dry (potential +sensible)":-0.02,"Moisture (latent)":0},
{"lat":-55,"Moist Static Energy":-0.05,"Dry (potential +sensible)":-0.02,"Moisture (latent)":0},
{"lat":-50,"Moist Static Energy":-0.05,"Dry (potential +sensible)":-0.03,"Moisture (latent)":0},
{"lat":-45,"Moist Static Energy":-0.08,"Dry (potential +sensible)":-0.05,"Moisture (latent)":-0.02},
{"lat":-40,"Moist Static Energy":-0.2,"Dry (potential +sensible)":-0.08,"Moisture (latent)":-0.1},
{"lat":-35,"Moist Static Energy":-0.55,"Dry (potential +sensible)":-0.1,"Moisture (latent)":-0.4},
{"lat":-30,"Moist Static Energy":-0.85,"Dry (potential +sensible)":-0.12,"Moisture (latent)":-0.7},
{"lat":-25,"Moist Static Energy":-1,"Dry (potential +sensible)":-0.15,"Moisture (latent)":-0.85},
{"lat":-20,"Moist Static Energy":-0.85,"Dry (potential +sensible)":-0.15,"Moisture (latent)":-0.75},
{"lat":-15,"Moist Static Energy":-0.55,"Dry (potential +sensible)":-0.15,"Moisture (latent)":-0.55},
{"lat":-10,"Moist Static Energy":-0.2,"Dry (potential +sensible)":-0.1,"Moisture (latent)":-0.25},
{"lat":-5,"Moist Static Energy":-0.15,"Dry (potential +sensible)":-0.05,"Moisture (latent)":-0.1},
{"lat":0,"Moist Static Energy":-0.05,"Dry (potential +sensible)":-0.05,"Moisture (latent)":0},
{"lat":5,"Moist Static Energy":0.15,"Dry (potential +sensible)":-0.1,"Moisture (latent)":0.25},
{"lat":10,"Moist Static Energy":0.3,"Dry (potential +sensible)":-0.2,"Moisture (latent)":0.4},
{"lat":15,"Moist Static Energy":0.4,"Dry (potential +sensible)":-0.2,"Moisture (latent)":0.45},
{"lat":20,"Moist Static Energy":0.5,"Dry (potential +sensible)":-0.05,"Moisture (latent)":0.5},
{"lat":25,"Moist Static Energy":0.65,"Dry (potential +sensible)":0.2,"Moisture (latent)":0.5},
{"lat":30,"Moist Static Energy":0.85,"Dry (potential +sensible)":0.5,"Moisture (latent)":0.45},
{"lat":35,"Moist Static Energy":1.2,"Dry (potential +sensible)":1,"Moisture (latent)":0.4},
{"lat":40,"Moist Static Energy":1.7,"Dry (potential +sensible)":1.5,"Moisture (latent)":0.4},
{"lat":45,"Moist Static Energy":2.2,"Dry (potential +sensible)":1.95,"Moisture (latent)":0.35},
{"lat":50,"Moist Static Energy":2.35,"Dry (potential +sensible)":2.1,"Moisture (latent)":0.25},
{"lat":55,"Moist Static Energy":1.9,"Dry (potential +sensible)":1.7,"Moisture (latent)":0.15},
{"lat":60,"Moist Static Energy":1.2,"Dry (potential +sensible)":1.1,"Moisture (latent)":0.08},
{"lat":65,"Moist Static Energy":0.55,"Dry (potential +sensible)":0.5,"Moisture (latent)":0.02},
{"lat":70,"Moist Static Energy":0.25,"Dry (potential +sensible)":0.2,"Moisture (latent)":0},
{"lat":75,"Moist Static Energy":0.12,"Dry (potential +sensible)":0.1,"Moisture (latent)":0},
{"lat":80,"Moist Static Energy":0.05,"Dry (potential +sensible)":0.05,"Moisture (latent)":0},
{"lat":85,"Moist Static Energy":0.02,"Dry (potential +sensible)":0.01,"Moisture (latent)":0},
{"lat":90,"Moist Static Energy":0,"Dry (potential +sensible)":0,"Moisture (latent)":0}
],
"E_4x": [
{"lat":-90,"Moist Static Energy":0,"Dry (potential +sensible)":0,"Moisture (latent)":0},
{"lat":-85,"Moist Static Energy":-0.05,"Dry (potential +sensible)":-0.03,"Moisture (latent)":0},
{"lat":-80,"Moist Static Energy":-0.08,"Dry (potential +sensible)":-0.05,"Moisture (latent)":0},
{"lat":-75,"Moist Static Energy":-0.05,"Dry (potential +sensible)":-0.03,"Moisture (latent)":0},
{"lat":-70,"Moist Static Energy":-0.01,"Dry (potential +sensible)":0,"Moisture (latent)":0},
{"lat":-65,"Moist Static Energy":-0.02,"Dry (potential +sensible)":-0.01,"Moisture (latent)":0},
{"lat":-60,"Moist Static Energy":-0.05,"Dry (potential +sensible)":-0.02,"Moisture (latent)":0},
{"lat":-55,"Moist Static Energy":-0.05,"Dry (potential +sensible)":-0.02,"Moisture (latent)":0},
{"lat":-50,"Moist Static Energy":-0.06,"Dry (potential +sensible)":-0.03,"Moisture (latent)":0},
{"lat":-45,"Moist Static Energy":-0.1,"Dry (potential +sensible)":-0.05,"Moisture (latent)":-0.03},
{"lat":-40,"Moist Static Energy":-0.25,"Dry (potential +sensible)":-0.08,"Moisture (latent)":-0.12},
{"lat":-35,"Moist Static Energy":-0.65,"Dry (potential +sensible)":-0.1,"Moisture (latent)":-0.45},
{"lat":-30,"Moist Static Energy":-1.05,"Dry (potential +sensible)":-0.12,"Moisture (latent)":-0.8},
{"lat":-25,"Moist Static Energy":-1.2,"Dry (potential +sensible)":-0.15,"Moisture (latent)":-1.05},
{"lat":-20,"Moist Static Energy":-1,"Dry (potential +sensible)":-0.15,"Moisture (latent)":-0.9},
{"lat":-15,"Moist Static Energy":-0.65,"Dry (potential +sensible)":-0.15,"Moisture (latent)":-0.6},
{"lat":-10,"Moist Static Energy":-0.25,"Dry (potential +sensible)":-0.1,"Moisture (latent)":-0.25},
{"lat":-5,"Moist Static Energy":-0.15,"Dry (potential +sensible)":-0.05,"Moisture (latent)":-0.1},
{"lat":0,"Moist Static Energy":-0.05,"Dry (potential +sensible)":-0.05,"Moisture (latent)":0},
{"lat":5,"Moist Static Energy":0.2,"Dry (potential +sensible)":-0.1,"Moisture (latent)":0.3},
{"lat":10,"Moist Static Energy":0.35,"Dry (potential +sensible)":-0.2,"Moisture (latent)":0.5},
{"lat":15,"Moist Static Energy":0.55,"Dry (potential +sensible)":-0.2,"Moisture (latent)":0.6},
{"lat":20,"Moist Static Energy":0.75,"Dry (potential +sensible)":-0.05,"Moisture (latent)":0.65},
{"lat":25,"Moist Static Energy":0.8,"Dry (potential +sensible)":0.2,"Moisture (latent)":0.6},
{"lat":30,"Moist Static Energy":0.95,"Dry (potential +sensible)":0.5,"Moisture (latent)":0.55},
{"lat":35,"Moist Static Energy":1.35,"Dry (potential +sensible)":1.05,"Moisture (latent)":0.55},
{"lat":40,"Moist Static Energy":1.9,"Dry (potential +sensible)":1.6,"Moisture (latent)":0.55},
{"lat":45,"Moist Static Energy":2.5,"Dry (potential +sensible)":2.1,"Moisture (latent)":0.5},
{"lat":50,"Moist Static Energy":2.65,"Dry (potential +sensible)":2.25,"Moisture (latent)":0.38},
{"lat":55,"Moist Static Energy":2.1,"Dry (potential +sensible)":1.85,"Moisture (latent)":0.2},
{"lat":60,"Moist Static Energy":1.3,"Dry (potential +sensible)":1.2,"Moisture (latent)":0.1},
{"lat":65,"Moist Static Energy":0.6,"Dry (potential +sensible)":0.55,"Moisture (latent)":0.03},
{"lat":70,"Moist Static Energy":0.25,"Dry (potential +sensible)":0.2,"Moisture (latent)":0},
{"lat":75,"Moist Static Energy":0.12,"Dry (potential +sensible)":0.1,"Moisture (latent)":0},
{"lat":80,"Moist Static Energy":0.05,"Dry (potential +sensible)":0.05,"Moisture (latent)":0},
{"lat":85,"Moist Static Energy":0.02,"Dry (potential +sensible)":0.01,"Moisture (latent)":0},
{"lat":90,"Moist Static Energy":0,"Dry (potential +sensible)":0,"Moisture (latent)":0}
],
"E_sp": [
{"lat":-90,"k_lo":0,"k_hi":0,"r_lo":0,"r_hi":0,"b_lo":0,"b_hi":0},
{"lat":-80,"k_lo":-0.12,"k_hi":0,"r_lo":-0.08,"r_hi":0,"b_lo":0,"b_hi":0},
{"lat":-70,"k_lo":-0.08,"k_hi":0.02,"r_lo":-0.05,"r_hi":0.02,"b_lo":0,"b_hi":0},
{"lat":-60,"k_lo":-0.1,"k_hi":0.02,"r_lo":-0.05,"r_hi":0,"b_lo":0,"b_hi":0},
{"lat":-50,"k_lo":-0.1,"k_hi":0.02,"r_lo":-0.06,"r_hi":0,"b_lo":-0.02,"b_hi":0},
{"lat":-40,"k_lo":-0.4,"k_hi":-0.05,"r_lo":-0.15,"r_hi":0,"b_lo":-0.3,"b_hi":0},
{"lat":-30,"k_lo":-1.3,"k_hi":-0.5,"r_lo":-0.25,"r_hi":-0.02,"b_lo":-1,"b_hi":-0.45},
{"lat":-20,"k_lo":-1.2,"k_hi":-0.5,"r_lo":-0.3,"r_hi":-0.03,"b_lo":-1,"b_hi":-0.5},
{"lat":-10,"k_lo":-0.4,"k_hi":0,"r_lo":-0.2,"r_hi":0,"b_lo":-0.4,"b_hi":-0.1},
{"lat":0,"k_lo":-0.35,"k_hi":0.15,"r_lo":-0.15,"r_hi":0.05,"b_lo":-0.1,"b_hi":0.15},
{"lat":10,"k_lo":0.1,"k_hi":0.6,"r_lo":-0.35,"r_hi":-0.05,"b_lo":0.2,"b_hi":0.6},
{"lat":20,"k_lo":0.3,"k_hi":0.8,"r_lo":-0.25,"r_hi":0.15,"b_lo":0.35,"b_hi":0.7},
{"lat":30,"k_lo":0.5,"k_hi":1.3,"r_lo":0.2,"r_hi":0.9,"b_lo":0.3,"b_hi":0.65},
{"lat":40,"k_lo":1.2,"k_hi":2.4,"r_lo":1,"r_hi":2.2,"b_lo":0.25,"b_hi":0.6},
{"lat":50,"k_lo":1.6,"k_hi":3.6,"r_lo":1.4,"r_hi":3.2,"b_lo":0.1,"b_hi":0.4},
{"lat":60,"k_lo":0.7,"k_hi":1.8,"r_lo":0.6,"r_hi":1.6,"b_lo":0,"b_hi":0.15},
{"lat":70,"k_lo":0.1,"k_hi":0.45,"r_lo":0.05,"r_hi":0.4,"b_lo":0,"b_hi":0.03},
{"lat":80,"k_lo":0,"k_hi":0.12,"r_lo":0,"r_hi":0.1,"b_lo":0,"b_hi":0},
{"lat":90,"k_lo":0,"k_hi":0,"r_lo":0,"r_hi":0,"b_lo":0,"b_hi":0}
],
"F": [
{"lat":-90,"Moist Static Energy":0,"Dry (potential +sensible)":0,"Moisture (latent)":0},
{"lat":-85,"Moist Static Energy":0,"Dry (potential +sensible)":0.01,"Moisture (latent)":0},
{"lat":-80,"Moist Static Energy":0,"Dry (potential +sensible)":0.01,"Moisture (latent)":0},
{"lat":-75,"Moist Static Energy":0,"Dry (potential +sensible)":0,"Moisture (latent)":0},
{"lat":-70,"Moist Static Energy":0,"Dry (potential +sensible)":0,"Moisture (latent)":0},
{"lat":-65,"Moist Static Energy":0.01,"Dry (potential +sensible)":0.01,"Moisture (latent)":0},
{"lat":-60,"Moist Static Energy":0.01,"Dry (potential +sensible)":0.02,"Moisture (latent)":0},
{"lat":-55,"Moist Static Energy":0.01,"Dry (potential +sensible)":0.02,"Moisture (latent)":0},
{"lat":-50,"Moist Static Energy":0,"Dry (potential +sensible)":0.01,"Moisture (latent)":0},
{"lat":-45,"Moist Static Energy":0,"Dry (potential +sensible)":0,"Moisture (latent)":0},
{"lat":-40,"Moist Static Energy":-0.03,"Dry (potential +sensible)":-0.03,"Moisture (latent)":-0.05},
{"lat":-35,"Moist Static Energy":-0.15,"Dry (potential +sensible)":-0.04,"Moisture (latent)":-0.17},
{"lat":-30,"Moist Static Energy":-0.3,"Dry (potential +sensible)":-0.02,"Moisture (latent)":-0.28},
{"lat":-25,"Moist Static Energy":-0.27,"Dry (potential +sensible)":0,"Moisture (latent)":-0.25},
{"lat":-20,"Moist Static Energy":-0.17,"Dry (potential +sensible)":0.01,"Moisture (latent)":-0.17},
{"lat":-15,"Moist Static Energy":-0.1,"Dry (potential +sensible)":0.01,"Moisture (latent)":-0.11},
{"lat":-10,"Moist Static Energy":-0.04,"Dry (potential +sensible)":0,"Moisture (latent)":-0.06},
{"lat":-5,"Moist Static Energy":0.01,"Dry (potential +sensible)":0.02,"Moisture (latent)":-0.01},
{"lat":0,"Moist Static Energy":0.07,"Dry (potential +sensible)":0.04,"Moisture (latent)":0.04},
{"lat":5,"Moist Static Energy":0.08,"Dry (potential +sensible)":0.04,"Moisture (latent)":0.05},
{"lat":10,"Moist Static Energy":0.08,"Dry (potential +sensible)":0.03,"Moisture (latent)":0.05},
{"lat":15,"Moist Static Energy":0.17,"Dry (potential +sensible)":0.03,"Moisture (latent)":0.12},
{"lat":20,"Moist Static Energy":0.22,"Dry (potential +sensible)":0.07,"Moisture (latent)":0.15},
{"lat":25,"Moist Static Energy":0.18,"Dry (potential +sensible)":0.03,"Moisture (latent)":0.14},
{"lat":30,"Moist Static Energy":0.08,"Dry (potential +sensible)":-0.02,"Moisture (latent)":0.1},
{"lat":35,"Moist Static Energy":0.05,"Dry (potential +sensible)":-0.03,"Moisture (latent)":0.09},
{"lat":40,"Moist Static Energy":0.1,"Dry (potential +sensible)":0,"Moisture (latent)":0.1},
{"lat":45,"Moist Static Energy":0.2,"Dry (potential +sensible)":0.08,"Moisture (latent)":0.12},
{"lat":50,"Moist Static Energy":0.3,"Dry (potential +sensible)":0.18,"Moisture (latent)":0.12},
{"lat":55,"Moist Static Energy":0.32,"Dry (potential +sensible)":0.2,"Moisture (latent)":0.1},
{"lat":60,"Moist Static Energy":0.25,"Dry (potential +sensible)":0.15,"Moisture (latent)":0.05},
{"lat":65,"Moist Static Energy":0.12,"Dry (potential +sensible)":0.07,"Moisture (latent)":0.02},
{"lat":70,"Moist Static Energy":0.04,"Dry (potential +sensible)":0.02,"Moisture (latent)":0},
{"lat":75,"Moist Static Energy":0.02,"Dry (potential +sensible)":0.01,"Moisture (latent)":0},
{"lat":80,"Moist Static Energy":0.01,"Dry (potential +sensible)":0,"Moisture (latent)":0},
{"lat":85,"Moist Static Energy":0,"Dry (potential +sensible)":0,"Moisture (latent)":0},
{"lat":90,"Moist Static Energy":0,"Dry (potential +sensible)":0,"Moisture (latent)":0}
],
"F_sp": [
{"lat":-90,"k_lo":0,"k_hi":0,"r_lo":0,"r_hi":0,"b_lo":0,"b_hi":0},
{"lat":-80,"k_lo":-0.03,"k_hi":0.05,"r_lo":-0.02,"r_hi":0.08,"b_lo":0,"b_hi":0},
{"lat":-70,"k_lo":-0.03,"k_hi":0.05,"r_lo":-0.02,"r_hi":0.08,"b_lo":0,"b_hi":0},
{"lat":-60,"k_lo":-0.03,"k_hi":0.05,"r_lo":-0.02,"r_hi":0.08,"b_lo":0,"b_hi":0},
{"lat":-50,"k_lo":-0.03,"k_hi":0.05,"r_lo":-0.02,"r_hi":0.08,"b_lo":0,"b_hi":0},
{"lat":-40,"k_lo":-0.1,"k_hi":0.05,"r_lo":-0.1,"r_hi":0.05,"b_lo":-0.1,"b_hi":0},
{"lat":-30,"k_lo":-0.6,"k_hi":-0.1,"r_lo":-0.1,"r_hi":0.05,"b_lo":-0.5,"b_hi":-0.1},
{"lat":-20,"k_lo":-0.35,"k_hi":0,"r_lo":-0.05,"r_hi":0.08,"b_lo":-0.3,"b_hi":-0.05},
{"lat":-10,"k_lo":-0.15,"k_hi":0.1,"r_lo":-0.05,"r_hi":0.1,"b_lo":-0.15,"b_hi":0.05},
{"lat":0,"k_lo":-0.05,"k_hi":0.2,"r_lo":-0.05,"r_hi":0.15,"b_lo":-0.05,"b_hi":0.15},
{"lat":10,"k_lo":-0.05,"k_hi":0.25,"r_lo":-0.05,"r_hi":0.15,"b_lo":-0.05,"b_hi":0.2},
{"lat":20,"k_lo":0.05,"k_hi":0.4,"r_lo":-0.05,"r_hi":0.2,"b_lo":0.05,"b_hi":0.3},
{"lat":30,"k_lo":-0.1,"k_hi":0.3,"r_lo":-0.2,"r_hi":0.15,"b_lo":-0.05,"b_hi":0.25},
{"lat":40,"k_lo":-0.3,"k_hi":0.45,"r_lo":-0.25,"r_hi":0.2,"b_lo":0,"b_hi":0.25},
{"lat":50,"k_lo":0,"k_hi":0.8,"r_lo":-0.05,"r_hi":0.4,"b_lo":0,"b_hi":0.25},
{"lat":60,"k_lo":0,"k_hi":0.55,"r_lo":0,"r_hi":0.35,"b_lo":0,"b_hi":0.12},
{"lat":70,"k_lo":-0.03,"k_hi":0.15,"r_lo":-0.02,"r_hi":0.1,"b_lo":0,"b_hi":0.03},
{"lat":80,"k_lo":0,"k_hi":0.05,"r_lo":0,"r_hi":0,"b_lo":0,"b_hi":0},
{"lat":90,"k_lo":0,"k_hi":0,"r_lo":0,"r_hi":0,"b_lo":0,"b_hi":0}
],
"G_pi": [
{"lat":-90,"Moist Static Energy":0,"Dry (potential +sensible)":0,"Moisture (latent)":0},
{"lat":-85,"Moist Static Energy":0,"Dry (potential +sensible)":0,"Moisture (latent)":0},
{"lat":-80,"Moist Static Energy":-0.05,"Dry (potential +sensible)":-0.02,"Moisture (latent)":0},
{"lat":-75,"Moist Static Energy":-0.3,"Dry (potential +sensible)":-0.2,"Moisture (latent)":0},
{"lat":-70,"Moist Static Energy":-0.7,"Dry (potential +sensible)":-0.5,"Moisture (latent)":-0.1},
{"lat":-65,"Moist Static Energy":-1.3,"Dry (potential +sensible)":-0.95,"Moisture (latent)":-0.3},
{"lat":-60,"Moist Static Energy":-2,"Dry (potential +sensible)":-1.5,"Moisture (latent)":-0.6},
{"lat":-55,"Moist Static Energy":-2.8,"Dry (potential +sensible)":-2,"Moisture (latent)":-1},
{"lat":-50,"Moist Static Energy":-3.6,"Dry (potential +sensible)":-2.4,"Moisture (latent)":-1.5},
{"lat":-45,"Moist Static Energy":-4.3,"Dry (potential +sensible)":-2.6,"Moisture (latent)":-1.9},
{"lat":-40,"Moist Static Energy":-4.55,"Dry (potential +sensible)":-2.5,"Moisture (latent)":-2},
{"lat":-35,"Moist Static Energy":-4,"Dry (potential +sensible)":-2,"Moisture (latent)":-1.7},
{"lat":-30,"Moist Static Energy":-2.8,"Dry (potential +sensible)":-1.5,"Moisture (latent)":-1.3},
{"lat":-25,"Moist Static Energy":-1.9,"Dry (potential +sensible)":-1.1,"Moisture (latent)":-1},
{"lat":-20,"Moist Static Energy":-1.2,"Dry (potential +sensible)":-0.7,"Moisture (latent)":-0.7},
{"lat":-15,"Moist Static Energy":-0.7,"Dry (potential +sensible)":-0.4,"Moisture (latent)":-0.45},
{"lat":-10,"Moist Static Energy":-0.2,"Dry (potential +sensible)":-0.1,"Moisture (latent)":-0.2},
{"lat":-5,"Moist Static Energy":0.25,"Dry (potential +sensible)":0.2,"Moisture (latent)":0},
{"lat":0,"Moist Static Energy":0.5,"Dry (potential +sensible)":0.35,"Moisture (latent)":0.15},
{"lat":5,"Moist Static Energy":0.6,"Dry (potential +sensible)":0.4,"Moisture (latent)":0.25},
{"lat":10,"Moist Static Energy":0.9,"Dry (potential +sensible)":0.6,"Moisture (latent)":0.4},
{"lat":15,"Moist Static Energy":1.3,"Dry (potential +sensible)":0.7,"Moisture (latent)":0.5},
{"lat":20,"Moist Static Energy":2,"Dry (potential +sensible)":1,"Moisture (latent)":0.7},
{"lat":25,"Moist Static Energy":3.3,"Dry (potential +sensible)":1.8,"Moisture (latent)":1.1},
{"lat":30,"Moist Static Energy":4.5,"Dry (potential +sensible)":2.8,"Moisture (latent)":1.5},
{"lat":35,"Moist Static Energy":5.3,"Dry (potential +sensible)":3.5,"Moisture (latent)":1.75},
{"lat":40,"Moist Static Energy":5.4,"Dry (potential +sensible)":3.65,"Moisture (latent)":1.7},
{"lat":45,"Moist Static Energy":4.8,"Dry (potential +sensible)":3.4,"Moisture (latent)":1.4},
{"lat":50,"Moist Static Energy":4,"Dry (potential +sensible)":3.1,"Moisture (latent)":1},
{"lat":55,"Moist Static Energy":3.5,"Dry (potential +sensible)":2.9,"Moisture (latent)":0.7},
{"lat":60,"Moist Static Energy":3.1,"Dry (potential +sensible)":2.6,"Moisture (latent)":0.5},
{"lat":65,"Moist Static Energy":2.5,"Dry (potential +sensible)":2.1,"Moisture (latent)":0.3},
{"lat":70,"Moist Static Energy":1.7,"Dry (potential +sensible)":1.4,"Moisture (latent)":0.12},
{"lat":75,"Moist Static Energy":0.9,"Dry (potential +sensible)":0.8,"Moisture (latent)":0.05},
{"lat":80,"Moist Static Energy":0.4,"Dry (potential +sensible)":0.35,"Moisture (latent)":0.02},
{"lat":85,"Moist Static Energy":0.1,"Dry (potential +sensible)":0.1,"Moisture (latent)":0},
{"lat":90,"Moist Static Energy":0,"Dry (potential +sensible)":0,"Moisture (latent)":0}
],
"G_4x": [
{"lat":-90,"Moist Static Energy":0,"Dry (potential +sensible)":0,"Moisture (latent)":0},
{"lat":-85,"Moist Static Energy":0,"Dry (potential +sensible)":0,"Moisture (latent)":0},
{"lat":-80,"Moist Static Energy":-0.05,"Dry (potential +sensible)":-0.02,"Moisture (latent)":0},
{"lat":-75,"Moist Static Energy":-0.35,"Dry (potential +sensible)":-0.2,"Moisture (latent)":0},
{"lat":-70,"Moist Static Energy":-0.8,"Dry (potential +sensible)":-0.5,"Moisture (latent)":-0.12},
{"lat":-65,"Moist Static Energy":-1.45,"Dry (potential +sensible)":-0.95,"Moisture (latent)":-0.35},
{"lat":-60,"Moist Static Energy":-2.25,"Dry (potential +sensible)":-1.5,"Moisture (latent)":-0.7},
{"lat":-55,"Moist Static Energy":-3.1,"Dry (potential +sensible)":-2,"Moisture (latent)":-1.2},
{"lat":-50,"Moist Static Energy":-3.9,"Dry (potential +sensible)":-2.35,"Moisture (latent)":-1.8},
{"lat":-45,"Moist Static Energy":-4.6,"Dry (potential +sensible)":-2.5,"Moisture (latent)":-2.3},
{"lat":-40,"Moist Static Energy":-4.85,"Dry (potential +sensible)":-2.3,"Moisture (latent)":-2.4},
{"lat":-35,"Moist Static Energy":-4.25,"Dry (potential +sensible)":-1.8,"Moisture (latent)":-2},
{"lat":-30,"Moist Static Energy":-2.95,"Dry (potential +sensible)":-1.3,"Moisture (latent)":-1.5},
{"lat":-25,"Moist Static Energy":-1.95,"Dry (potential +sensible)":-1,"Moisture (latent)":-1.1},
{"lat":-20,"Moist Static Energy":-1.2,"Dry (potential +sensible)":-0.6,"Moisture (latent)":-0.75},
{"lat":-15,"Moist Static Energy":-0.7,"Dry (potential +sensible)":-0.35,"Moisture (latent)":-0.45},
{"lat":-10,"Moist Static Energy":-0.2,"Dry (potential +sensible)":-0.05,"Moisture (latent)":-0.2},
{"lat":-5,"Moist Static Energy":0.25,"Dry (potential +sensible)":0.2,"Moisture (latent)":0},
{"lat":0,"Moist Static Energy":0.6,"Dry (potential +sensible)":0.35,"Moisture (latent)":0.2},
{"lat":5,"Moist Static Energy":0.7,"Dry (potential +sensible)":0.4,"Moisture (latent)":0.3},
{"lat":10,"Moist Static Energy":1,"Dry (potential +sensible)":0.6,"Moisture (latent)":0.5},
{"lat":15,"Moist Static Energy":1.4,"Dry (potential +sensible)":0.7,"Moisture (latent)":0.65},
{"lat":20,"Moist Static Energy":2.1,"Dry (potential +sensible)":1,"Moisture (latent)":0.9},
{"lat":25,"Moist Static Energy":3.5,"Dry (potential +sensible)":1.9,"Moisture (latent)":1.4},
{"lat":30,"Moist Static Energy":4.8,"Dry (potential +sensible)":2.9,"Moisture (latent)":1.9},
{"lat":35,"Moist Static Energy":5.65,"Dry (potential +sensible)":3.5,"Moisture (latent)":2.2},
{"lat":40,"Moist Static Energy":5.8,"Dry (potential +sensible)":3.6,"Moisture (latent)":2.2},
{"lat":45,"Moist Static Energy":5.1,"Dry (potential +sensible)":3.3,"Moisture (latent)":1.8},
{"lat":50,"Moist Static Energy":4.2,"Dry (potential +sensible)":2.9,"Moisture (latent)":1.3},
{"lat":55,"Moist Static Energy":3.5,"Dry (potential +sensible)":2.6,"Moisture (latent)":0.9},
{"lat":60,"Moist Static Energy":3,"Dry (potential +sensible)":2.3,"Moisture (latent)":0.6},
{"lat":65,"Moist Static Energy":2.3,"Dry (potential +sensible)":1.8,"Moisture (latent)":0.35},
{"lat":70,"Moist Static Energy":1.5,"Dry (potential +sensible)":1.2,"Moisture (latent)":0.15},
{"lat":75,"Moist Static Energy":0.8,"Dry (potential +sensible)":0.7,"Moisture (latent)":0.05},
{"lat":80,"Moist Static Energy":0.35,"Dry (potential +sensible)":0.3,"Moisture (latent)":0.02},
{"lat":85,"Moist Static Energy":0.1,"Dry (potential +sensible)":0.08,"Moisture (latent)":0},
{"lat":90,"Moist Static Energy":0,"Dry (potential +sensible)":0,"Moisture (latent)":0}
],
"G_sp": [
{"lat":-90,"k_lo":0,"k_hi":0,"r_lo":0,"r_hi":0,"b_lo":0,"b_hi":0},
{"lat":-80,"k_lo":-0.1,"k_hi":0,"r_lo":-0.05,"r_hi":0,"b_lo":0,"b_hi":0},
{"lat":-70,"k_lo":-0.9,"k_hi":-0.5,"r_lo":-0.7,"r_hi":-0.35,"b_lo":-0.2,"b_hi":0},
{"lat":-60,"k_lo":-2.5,"k_hi":-1.6,"r_lo":-1.9,"r_hi":-1.1,"b_lo":-0.9,"b_hi":-0.4},
{"lat":-50,"k_lo":-4.2,"k_hi":-3,"r_lo":-2.9,"r_hi":-1.9,"b_lo":-2,"b_hi":-1.1},
{"lat":-40,"k_lo":-5.5,"k_hi":-4,"r_lo":-3,"r_hi":-2,"b_lo":-2.5,"b_hi":-1.6},
{"lat":-30,"k_lo":-3.4,"k_hi":-2.2,"r_lo":-1.9,"r_hi":-1.1,"b_lo":-1.6,"b_hi":-1},
{"lat":-20,"k_lo":-1.6,"k_hi":-0.8,"r_lo":-1,"r_hi":-0.4,"b_lo":-0.9,"b_hi":-0.5},
{"lat":-10,"k_lo":-0.5,"k_hi":0.1,"r_lo":-0.4,"r_hi":0.3,"b_lo":-0.4,"b_hi":0},
{"lat":0,"k_lo":0.2,"k_hi":1,"r_lo":-0.3,"r_hi":1,"b_lo":-0.1,"b_hi":0.5},
{"lat":10,"k_lo":0.6,"k_hi":1.6,"r_lo":0.1,"r_hi":1.2,"b_lo":0.1,"b_hi":0.8},
{"lat":20,"k_lo":1.6,"k_hi":2.6,"r_lo":0.6,"r_hi":1.8,"b_lo":0.4,"b_hi":1.1},
{"lat":30,"k_lo":3.8,"k_hi":5.2,"r_lo":2.2,"r_hi":3.4,"b_lo":1.1,"b_hi":2},
{"lat":40,"k_lo":4.8,"k_hi":6.3,"r_lo":3.1,"r_hi":4.3,"b_lo":1.3,"b_hi":2.3},
{"lat":50,"k_lo":3.5,"k_hi":4.5,"r_lo":2.6,"r_hi":3.6,"b_lo":0.7,"b_hi":1.4},
{"lat":60,"k_lo":2.7,"k_hi":3.5,"r_lo":2.2,"r_hi":3,"b_lo":0.3,"b_hi":0.7},
{"lat":70,"k_lo":1.4,"k_hi":2,"r_lo":1.1,"r_hi":1.7,"b_lo":0.05,"b_hi":0.25},
{"lat":80,"k_lo":0.25,"k_hi":0.55,"r_lo":0.2,"r_hi":0.5,"b_lo":0,"b_hi":0.05},
{"lat":90,"k_lo":0,"k_hi":0,"r_lo":0,"r_hi":0,"b_lo":0,"b_hi":0}
],
"H": [
{"lat":-90,"Moist Static Energy":0,"Dry (potential +sensible)":0,"Moisture (latent)":0},
{"lat":-85,"Moist Static Energy":0,"Dry (potential +sensible)":0.01,"Moisture (latent)":0},
{"lat":-80,"Moist Static Energy":0,"Dry (potential +sensible)":0.01,"Moisture (latent)":0},
{"lat":-75,"Moist Static Energy":0,"Dry (potential +sensible)":0.03,"Moisture (latent)":0},
{"lat":-70,"Moist Static Energy":-0.01,"Dry (potential +sensible)":0.04,"Moisture (latent)":-0.02},
{"lat":-65,"Moist Static Energy":-0.1,"Dry (potential +sensible)":0.03,"Moisture (latent)":-0.15},
{"lat":-60,"Moist Static Energy":-0.3,"Dry (potential +sensible)":0,"Moisture (latent)":-0.35},
{"lat":-55,"Moist Static Energy":-0.52,"Dry (potential +sensible)":-0.04,"Moisture (latent)":-0.5},
{"lat":-50,"Moist Static Energy":-0.66,"Dry (potential +sensible)":-0.09,"Moisture (latent)":-0.57},
{"lat":-45,"Moist Static Energy":-0.5,"Dry (potential +sensible)":0.15,"Moisture (latent)":-0.52},
{"lat":-40,"Moist Static Energy":-0.05,"Dry (potential +sensible)":0.38,"Moisture (latent)":-0.42},
{"lat":-35,"Moist Static Energy":0.03,"Dry (potential +sensible)":0.33,"Moisture (latent)":-0.33},
{"lat":-30,"Moist Static Energy":0.07,"Dry (potential +sensible)":0.24,"Moisture (latent)":-0.22},
{"lat":-25,"Moist Static Energy":0,"Dry (potential +sensible)":0.14,"Moisture (latent)":-0.17},
{"lat":-20,"Moist Static Energy":-0.1,"Dry (potential +sensible)":0.06,"Moisture (latent)":-0.16},
{"lat":-15,"Moist Static Energy":-0.14,"Dry (potential +sensible)":0,"Moisture (latent)":-0.13},
{"lat":-10,"Moist Static Energy":-0.1,"Dry (potential +sensible)":-0.02,"Moisture (latent)":-0.09},
{"lat":-5,"Moist Static Energy":0.05,"Dry (potential +sensible)":0,"Moisture (latent)":0.05},
{"lat":0,"Moist Static Energy":0.16,"Dry (potential +sensible)":0.04,"Moisture (latent)":0.12},
{"lat":5,"Moist Static Energy":0.19,"Dry (potential +sensible)":0.07,"Moisture (latent)":0.13},
{"lat":10,"Moist Static Energy":0.08,"Dry (potential +sensible)":-0.02,"Moisture (latent)":0.11},
{"lat":15,"Moist Static Energy":0.02,"Dry (potential +sensible)":-0.05,"Moisture (latent)":0.08},
{"lat":20,"Moist Static Energy":-0.02,"Dry (potential +sensible)":-0.1,"Moisture (latent)":0.08},
{"lat":25,"Moist Static Energy":0.05,"Dry (potential +sensible)":-0.17,"Moisture (latent)":0.2},
{"lat":30,"Moist Static Energy":0.18,"Dry (potential +sensible)":-0.21,"Moisture (latent)":0.35},
{"lat":35,"Moist Static Energy":0.33,"Dry (potential +sensible)":-0.16,"Moisture (latent)":0.45},
{"lat":40,"Moist Static Energy":0.43,"Dry (potential +sensible)":-0.05,"Moisture (latent)":0.49},
{"lat":45,"Moist Static Energy":0.32,"Dry (potential +sensible)":-0.08,"Moisture (latent)":0.4},
{"lat":50,"Moist Static Energy":0.1,"Dry (potential +sensible)":-0.17,"Moisture (latent)":0.25},
{"lat":55,"Moist Static Energy":-0.1,"Dry (potential +sensible)":-0.28,"Moisture (latent)":0.15},
{"lat":60,"Moist Static Energy":-0.25,"Dry (potential +sensible)":-0.36,"Moisture (latent)":0.1},
{"lat":65,"Moist Static Energy":-0.34,"Dry (potential +sensible)":-0.4,"Moisture (latent)":0.04},
{"lat":70,"Moist Static Energy":-0.33,"Dry (potential +sensible)":-0.34,"Moisture (latent)":0},
{"lat":75,"Moist Static Energy":-0.22,"Dry (potential +sensible)":-0.22,"Moisture (latent)":0},
{"lat":80,"Moist Static Energy":-0.1,"Dry (potential +sensible)":-0.1,"Moisture (latent)":0},
{"lat":85,"Moist Static Energy":-0.02,"Dry (potential +sensible)":-0.02,"Moisture (latent)":0},
{"lat":90,"Moist Static Energy":0,"Dry (potential +sensible)":0,"Moisture (latent)":0}
],
"H_sp": [
{"lat":-90,"k_lo":0,"k_hi":0,"r_lo":0,"r_hi":0,"b_lo":0,"b_hi":0},
{"lat":-80,"k_lo":-0.03,"k_hi":0.05,"r_lo":-0.02,"r_hi":0.08,"b_lo":-0.03,"b_hi":0.02},
{"lat":-70,"k_lo":-0.05,"k_hi":0.05,"r_lo":-0.02,"r_hi":0.1,"b_lo":-0.08,"b_hi":0.02},
{"lat":-60,"k_lo":-0.55,"k_hi":-0.1,"r_lo":-0.15,"r_hi":0.15,"b_lo":-0.6,"b_hi":-0.15},
{"lat":-50,"k_lo":-1.05,"k_hi":-0.35,"r_lo":-0.35,"r_hi":0.15,"b_lo":-0.9,"b_hi":-0.3},
{"lat":-40,"k_lo":-0.5,"k_hi":0.3,"r_lo":0.05,"r_hi":0.8,"b_lo":-0.7,"b_hi":-0.2},
{"lat":-30,"k_lo":-0.2,"k_hi":0.3,"r_lo":0,"r_hi":0.5,"b_lo":-0.4,"b_hi":-0.05},
{"lat":-20,"k_lo":-0.3,"k_hi":0.1,"r_lo":-0.1,"r_hi":0.25,"b_lo":-0.35,"b_hi":0},
{"lat":-10,"k_lo":-0.3,"k_hi":0.05,"r_lo":-0.2,"r_hi":0.15,"b_lo":-0.25,"b_hi":0.05},
{"lat":0,"k_lo":-0.05,"k_hi":0.4,"r_lo":-0.1,"r_hi":0.25,"b_lo":-0.05,"b_hi":0.35},
{"lat":10,"k_lo":-0.1,"k_hi":0.3,"r_lo":-0.25,"r_hi":0.15,"b_lo":-0.05,"b_hi":0.3},
{"lat":20,"k_lo":-0.25,"k_hi":0.2,"r_lo":-0.3,"r_hi":0.05,"b_lo":-0.05,"b_hi":0.25},
{"lat":30,"k_lo":-0.05,"k_hi":0.45,"r_lo":-0.45,"r_hi":0,"b_lo":0.15,"b_hi":0.6},
{"lat":40,"k_lo":0.15,"k_hi":0.9,"r_lo":-0.35,"r_hi":0.25,"b_lo":0.25,"b_hi":0.8},
{"lat":50,"k_lo":-0.2,"k_hi":0.4,"r_lo":-0.45,"r_hi":0.1,"b_lo":0.05,"b_hi":0.45},
{"lat":60,"k_lo":-0.5,"k_hi":0,"r_lo":-0.65,"r_hi":-0.1,"b_lo":-0.05,"b_hi":0.25},
{"lat":70,"k_lo":-0.6,"k_hi":-0.1,"r_lo":-0.6,"r_hi":-0.1,"b_lo":-0.05,"b_hi":0.05},
{"lat":80,"k_lo":-0.2,"k_hi":0.02,"r_lo":-0.2,"r_hi":0.02,"b_lo":0,"b_hi":0},
{"lat":90,"k_lo":0,"k_hi":0,"r_lo":0,"r_hi":0,"b_lo":0,"b_hi":0}
],
"I_pi": [
{"lat":-90,"Moist Static Energy":0,"Dry (potential +sensible)":0,"Moisture (latent)":0},
{"lat":-85,"Moist Static Energy":0,"Dry (potential +sensible)":-0.02,"Moisture (latent)":0},
{"lat":-80,"Moist Static Energy":0,"Dry (potential +sensible)":-0.05,"Moisture (latent)":0},
{"lat":-75,"Moist Static Energy":0,"Dry (potential +sensible)":-0.05,"Moisture (latent)":0},
{"lat":-70,"Moist Static Energy":0,"Dry (potential +sensible)":-0.03,"Moisture (latent)":0},
{"lat":-65,"Moist Static Energy":0.02,"Dry (potential +sensible)":0.05,"Moisture (latent)":-0.02},
{"lat":-60,"Moist Static Energy":0.1,"Dry (potential +sensible)":0.25,"Moisture (latent)":-0.1},
{"lat":-55,"Moist Static Energy":0.4,"Dry (potential +sensible)":0.7,"Moisture (latent)":-0.3},
{"lat":-50,"Moist Static Energy":0.7,"Dry (potential +sensible)":1.15,"Moisture (latent)":-0.45},
{"lat":-45,"Moist Static Energy":0.75,"Dry (potential +sensible)":1.25,"Moisture (latent)":-0.45},
{"lat":-40,"Moist Static Energy":0.5,"Dry (potential +sensible)":0.8,"Moisture (latent)":-0.3},
{"lat":-35,"Moist Static Energy":0.05,"Dry (potential +sensible)":0,"Moisture (latent)":0.1},
{"lat":-30,"Moist Static Energy":-0.2,"Dry (potential +sensible)":-0.8,"Moisture (latent)":0.6},
{"lat":-25,"Moist Static Energy":-0.25,"Dry (potential +sensible)":-1.2,"Moisture (latent)":1},
{"lat":-20,"Moist Static Energy":-0.1,"Dry (potential +sensible)":-1.2,"Moisture (latent)":1.1},
{"lat":-15,"Moist Static Energy":0.3,"Dry (potential +sensible)":-0.3,"Moisture (latent)":0.6},
{"lat":-10,"Moist Static Energy":0.7,"Dry (potential +sensible)":1.6,"Moisture (latent)":-1.2},
{"lat":-5,"Moist Static Energy":1.1,"Dry (potential +sensible)":4.5,"Moisture (latent)":-3.2},
{"lat":0,"Moist Static Energy":1.6,"Dry (potential +sensible)":5.7,"Moisture (latent)":-4.2},
{"lat":5,"Moist Static Energy":1.7,"Dry (potential +sensible)":6.6,"Moisture (latent)":-4.8},
{"lat":10,"Moist Static Energy":2.3,"Dry (potential +sensible)":7.6,"Moisture (latent)":-5.4},
{"lat":15,"Moist Static Energy":2.8,"Dry (potential +sensible)":6.3,"Moisture (latent)":-4.2},
{"lat":20,"Moist Static Energy":2.9,"Dry (potential +sensible)":3.9,"Moisture (latent)":-2},
{"lat":25,"Moist Static Energy":2,"Dry (potential +sensible)":1.8,"Moisture (latent)":-0.5},
{"lat":30,"Moist Static Energy":0.8,"Dry (potential +sensible)":0.4,"Moisture (latent)":0.05},
{"lat":35,"Moist Static Energy":-0.1,"Dry (potential +sensible)":-0.15,"Moisture (latent)":0.3},
{"lat":40,"Moist Static Energy":-0.5,"Dry (potential +sensible)":-0.5,"Moisture (latent)":0.35},
{"lat":45,"Moist Static Energy":-0.8,"Dry (potential +sensible)":-0.85,"Moisture (latent)":0.35},
{"lat":50,"Moist Static Energy":-0.9,"Dry (potential +sensible)":-1,"Moisture (latent)":0.3},
{"lat":55,"Moist Static Energy":-0.85,"Dry (potential +sensible)":-0.95,"Moisture (latent)":0.2},
{"lat":60,"Moist Static Energy":-0.7,"Dry (potential +sensible)":-0.8,"Moisture (latent)":0.1},
{"lat":65,"Moist Static Energy":-0.45,"Dry (potential +sensible)":-0.55,"Moisture (latent)":0.05},
{"lat":70,"Moist Static Energy":-0.3,"Dry (potential +sensible)":-0.35,"Moisture (latent)":0},
{"lat":75,"Moist Static Energy":-0.15,"Dry (potential +sensible)":-0.2,"Moisture (latent)":0},
{"lat":80,"Moist Static Energy":-0.05,"Dry (potential +sensible)":-0.1,"Moisture (latent)":0},
{"lat":85,"Moist Static Energy":0,"Dry (potential +sensible)":-0.02,"Moisture (latent)":0},
{"lat":90,"Moist Static Energy":0,"Dry (potential +sensible)":0,"Moisture (latent)":0}
],
"I_4x": [
{"lat":-90,"Moist Static Energy":0,"Dry (potential +sensible)":0,"Moisture (latent)":0},
{"lat":-85,"Moist Static Energy":0,"Dry (potential +sensible)":-0.02,"Moisture (latent)":0},
{"lat":-80,"Moist Static Energy":0,"Dry (potential +sensible)":-0.05,"Moisture (latent)":0},
{"lat":-75,"Moist Static Energy":0,"Dry (potential +sensible)":-0.05,"Moisture (latent)":0},
{"lat":-70,"Moist Static Energy":0,"Dry (potential +sensible)":-0.03,"Moisture (latent)":0},
{"lat":-65,"Moist Static Energy":0.02,"Dry (potential +sensible)":0.08,"Moisture (latent)":-0.02},
{"lat":-60,"Moist Static Energy":0.1,"Dry (potential +sensible)":0.3,"Moisture (latent)":-0.12},
{"lat":-55,"Moist Static Energy":0.35,"Dry (potential +sensible)":0.8,"Moisture (latent)":-0.35},
{"lat":-50,"Moist Static Energy":0.6,"Dry (potential +sensible)":1.3,"Moisture (latent)":-0.55},
{"lat":-45,"Moist Static Energy":0.7,"Dry (potential +sensible)":1.35,"Moisture (latent)":-0.55},
{"lat":-40,"Moist Static Energy":0.5,"Dry (potential +sensible)":0.8,"Moisture (latent)":-0.35},
{"lat":-35,"Moist Static Energy":0.05,"Dry (potential +sensible)":-0.1,"Moisture (latent)":0.1},
{"lat":-30,"Moist Static Energy":-0.2,"Dry (potential +sensible)":-1,"Moisture (latent)":0.7},
{"lat":-25,"Moist Static Energy":-0.25,"Dry (potential +sensible)":-1.4,"Moisture (latent)":1.2},
{"lat":-20,"Moist Static Energy":-0.1,"Dry (potential +sensible)":-1.35,"Moisture (latent)":1.25},
{"lat":-15,"Moist Static Energy":0.3,"Dry (potential +sensible)":-0.3,"Moisture (latent)":0.7},
{"lat":-10,"Moist Static Energy":0.7,"Dry (potential +sensible)":1.9,"Moisture (latent)":-1.5},
{"lat":-5,"Moist Static Energy":1,"Dry (potential +sensible)":5.2,"Moisture (latent)":-4},
{"lat":0,"Moist Static Energy":1.5,"Dry (potential +sensible)":6.3,"Moisture (latent)":-5.2},
{"lat":5,"Moist Static Energy":1.6,"Dry (potential +sensible)":7.5,"Moisture (latent)":-5.9},
{"lat":10,"Moist Static Energy":2.2,"Dry (potential +sensible)":8.8,"Moisture (latent)":-6.8},
{"lat":15,"Moist Static Energy":2.75,"Dry (potential +sensible)":7.4,"Moisture (latent)":-5.3},
{"lat":20,"Moist Static Energy":2.85,"Dry (potential +sensible)":4.2,"Moisture (latent)":-2.5},
{"lat":25,"Moist Static Energy":2,"Dry (potential +sensible)":1.8,"Moisture (latent)":-0.6},
{"lat":30,"Moist Static Energy":0.85,"Dry (potential +sensible)":0.3,"Moisture (latent)":0.1},
{"lat":35,"Moist Static Energy":-0.1,"Dry (potential +sensible)":-0.25,"Moisture (latent)":0.35},
{"lat":40,"Moist Static Energy":-0.55,"Dry (potential +sensible)":-0.6,"Moisture (latent)":0.4},
{"lat":45,"Moist Static Energy":-0.9,"Dry (potential +sensible)":-1,"Moisture (latent)":0.4},
{"lat":50,"Moist Static Energy":-1.05,"Dry (potential +sensible)":-1.2,"Moisture (latent)":0.35},
{"lat":55,"Moist Static Energy":-1,"Dry (potential +sensible)":-1.15,"Moisture (latent)":0.25},
{"lat":60,"Moist Static Energy":-0.8,"Dry (potential +sensible)":-0.95,"Moisture (latent)":0.12},
{"lat":65,"Moist Static Energy":-0.5,"Dry (potential +sensible)":-0.6,"Moisture (latent)":0.05},
{"lat":70,"Moist Static Energy":-0.3,"Dry (potential +sensible)":-0.4,"Moisture (latent)":0},
{"lat":75,"Moist Static Energy":-0.15,"Dry (potential +sensible)":-0.2,"Moisture (latent)":0},
{"lat":80,"Moist Static Energy":-0.05,"Dry (potential +sensible)":-0.1,"Moisture (latent)":0},
{"lat":85,"Moist Static Energy":0,"Dry (potential +sensible)":-0.02,"Moisture (latent)":0},
{"lat":90,"Moist Static Energy":0,"Dry (potential +sensible)":0,"Moisture (latent)":0}
],
"I_sp": [
{"lat":-90,"k_lo":0,"k_hi":0,"r_lo":0,"r_hi":0,"b_lo":0,"b_hi":0},
{"lat":-80,"k_lo":0,"k_hi":0,"r_lo":-0.1,"r_hi":0,"b_lo":0,"b_hi":0},
{"lat":-70,"k_lo":0,"k_hi":0.02,"r_lo":-0.1,"r_hi":0,"b_lo":0,"b_hi":0},
{"lat":-60,"k_lo":0,"k_hi":0.25,"r_lo":0.05,"r_hi":0.5,"b_lo":-0.25,"b_hi":0},
{"lat":-50,"k_lo":0.4,"k_hi":1.1,"r_lo":0.7,"r_hi":1.7,"b_lo":-0.8,"b_hi":-0.2},
{"lat":-40,"k_lo":0.2,"k_hi":0.8,"r_lo":0.4,"r_hi":1.3,"b_lo":-0.6,"b_hi":0},
{"lat":-30,"k_lo":-0.5,"k_hi":0.1,"r_lo":-1.5,"r_hi":-0.3,"b_lo":0.2,"b_hi":1},
{"lat":-20,"k_lo":-0.4,"k_hi":0.3,"r_lo":-2,"r_hi":-0.6,"b_lo":0.6,"b_hi":1.7},
{"lat":-10,"k_lo":0.3,"k_hi":1.2,"r_lo":0.5,"r_hi":3,"b_lo":-3,"b_hi":0.3},
{"lat":0,"k_lo":1,"k_hi":2.2,"r_lo":3.5,"r_hi":8.5,"b_lo":-8,"b_hi":-2.5},
{"lat":10,"k_lo":1.6,"k_hi":3,"r_lo":5.8,"r_hi":10.3,"b_lo":-7.5,"b_hi":-4.3},
{"lat":20,"k_lo":2.3,"k_hi":3.6,"r_lo":2.5,"r_hi":5.5,"b_lo":-3.5,"b_hi":-0.8},
{"lat":30,"k_lo":0.4,"k_hi":1.3,"r_lo":-0.2,"r_hi":1,"b_lo":-0.2,"b_hi":0.4},
{"lat":40,"k_lo":-0.9,"k_hi":-0.1,"r_lo":-1,"r_hi":0,"b_lo":0.1,"b_hi":0.6},
{"lat":50,"k_lo":-1.4,"k_hi":-0.5,"r_lo":-1.5,"r_hi":-0.4,"b_lo":0.1,"b_hi":0.5},
{"lat":60,"k_lo":-1.1,"k_hi":-0.3,"r_lo":-1.3,"r_hi":-0.3,"b_lo":0,"b_hi":0.25},
{"lat":70,"k_lo":-0.5,"k_hi":-0.1,"r_lo":-0.7,"r_hi":-0.1,"b_lo":0,"b_hi":0.05},
{"lat":80,"k_lo":-0.15,"k_hi":0.05,"r_lo":-0.25,"r_hi":0,"b_lo":0,"b_hi":0},
{"lat":90,"k_lo":0,"k_hi":0,"r_lo":0,"r_hi":0,"b_lo":0,"b_hi":0}
],
"J": [
{"lat":-90,"Moist Static Energy":0,"Dry":0,"Moisture (latent)":0},
{"lat":-85,"Moist Static Energy":0,"Dry":-0.01,"Moisture (latent)":0},
{"lat":-80,"Moist Static Energy":0,"Dry":-0.02,"Moisture (latent)":0},
{"lat":-75,"Moist Static Energy":0,"Dry":-0.02,"Moisture (latent)":0},
{"lat":-70,"Moist Static Energy":0,"Dry":-0.01,"Moisture (latent)":0},
{"lat":-65,"Moist Static Energy":0.02,"Dry":0.03,"Moisture (latent)":0},
{"lat":-60,"Moist Static Energy":0.1,"Dry":0.15,"Moisture (latent)":-0.05},
{"lat":-55,"Moist Static Energy":0.18,"Dry":0.28,"Moisture (latent)":-0.12},
{"lat":-50,"Moist Static Energy":0.19,"Dry":0.33,"Moisture (latent)":-0.15},
{"lat":-45,"Moist Static Energy":0.05,"Dry":0.1,"Moisture (latent)":-0.12},
{"lat":-40,"Moist Static Energy":-0.12,"Dry":-0.25,"Moisture (latent)":0.05},
{"lat":-35,"Moist Static Energy":-0.1,"Dry":-0.3,"Moisture (latent)":0.15},
{"lat":-30,"Moist Static Energy":-0.05,"Dry":-0.27,"Moisture (latent)":0.2},
{"lat":-25,"Moist Static Energy":-0.03,"Dry":-0.24,"Moisture (latent)":0.2},
{"lat":-20,"Moist Static Energy":-0.03,"Dry":-0.24,"Moisture (latent)":0.22},
{"lat":-15,"Moist Static Energy":-0.04,"Dry":-0.28,"Moisture (latent)":0.26},
{"lat":-10,"Moist Static Energy":-0.06,"Dry":-0.35,"Moisture (latent)":0.25},
{"lat":-5,"Moist Static Energy":-0.12,"Dry":0.3,"Moisture (latent)":-0.5},
{"lat":0,"Moist Static Energy":-0.2,"Dry":1.05,"Moisture (latent)":-1.25},
{"lat":5,"Moist Static Energy":-0.1,"Dry":1.42,"Moisture (latent)":-1.55},
{"lat":10,"Moist Static Energy":0.03,"Dry":1.05,"Moisture (latent)":-1.1},
{"lat":15,"Moist Static Energy":0.05,"Dry":0.8,"Moisture (latent)":-0.8},
{"lat":20,"Moist Static Energy":0.08,"Dry":0.55,"Moisture (latent)":-0.55},
{"lat":25,"Moist Static Energy":0.12,"Dry":0.4,"Moisture (latent)":-0.35},
{"lat":30,"Moist Static Energy":0.15,"Dry":0.28,"Moisture (latent)":-0.15},
{"lat":35,"Moist Static Energy":0.08,"Dry":0.05,"Moisture (latent)":0.05},
{"lat":40,"Moist Static Energy":-0.05,"Dry":-0.18,"Moisture (latent)":0.12},
{"lat":45,"Moist Static Energy":-0.12,"Dry":-0.26,"Moisture (latent)":0.12},
{"lat":50,"Moist Static Energy":-0.14,"Dry":-0.25,"Moisture (latent)":0.08},
{"lat":55,"Moist Static Energy":-0.12,"Dry":-0.18,"Moisture (latent)":0.03},
{"lat":60,"Moist Static Energy":-0.06,"Dry":-0.05,"Moisture (latent)":-0.01},
{"lat":65,"Moist Static Energy":0,"Dry":0.04,"Moisture (latent)":0},
{"lat":70,"Moist Static Energy":0.02,"Dry":0.07,"Moisture (latent)":0},
{"lat":75,"Moist Static Energy":0.01,"Dry":0.07,"Moisture (latent)":0},
{"lat":80,"Moist Static Energy":0,"Dry":0.04,"Moisture (latent)":0},
{"lat":85,"Moist Static Energy":0,"Dry":0.01,"Moisture (latent)":0},
{"lat":90,"Moist Static Energy":0,"Dry":0,"Moisture (latent)":0}
],
"J_sp": [
{"lat":-90,"k_lo":0,"k_hi":0,"r_lo":0,"r_hi":0,"b_lo":0,"b_hi":0},
{"lat":-80,"k_lo":0,"k_hi":0,"r_lo":-0.05,"r_hi":0.02,"b_lo":0,"b_hi":0},
{"lat":-70,"k_lo":0,"k_hi":0.02,"r_lo":-0.05,"r_hi":0.02,"b_lo":0,"b_hi":0},
{"lat":-60,"k_lo":0,"k_hi":0.25,"r_lo":0,"r_hi":0.4,"b_lo":-0.2,"b_hi":0},
{"lat":-50,"k_lo":0,"k_hi":0.4,"r_lo":0.1,"r_hi":0.8,"b_lo":-0.35,"b_hi":0},
{"lat":-40,"k_lo":-0.3,"k_hi":0.05,"r_lo":-0.5,"r_hi":0,"b_lo":-0.15,"b_hi":0.2},
{"lat":-30,"k_lo":-0.2,"k_hi":0.1,"r_lo":-0.6,"r_hi":0,"b_lo":0,"b_hi":0.6},
{"lat":-20,"k_lo":-0.2,"k_hi":0.15,"r_lo":-0.6,"r_hi":0.1,"b_lo":0,"b_hi":0.6},
{"lat":-10,"k_lo":-0.25,"k_hi":0.1,"r_lo":-1.6,"r_hi":0,"b_lo":-0.2,"b_hi":1},
{"lat":0,"k_lo":-0.45,"k_hi":0.05,"r_lo":0,"r_hi":2,"b_lo":-2.3,"b_hi":-0.6},
{"lat":10,"k_lo":-0.15,"k_hi":0.2,"r_lo":0.5,"r_hi":2,"b_lo":-2.2,"b_hi":-0.5},
{"lat":20,"k_lo":-0.05,"k_hi":0.25,"r_lo":0.2,"r_hi":1.2,"b_lo":-1.5,"b_hi":-0.2},
{"lat":30,"k_lo":0,"k_hi":0.3,"r_lo":0,"r_hi":0.8,"b_lo":-0.8,"b_hi":0.05},
{"lat":40,"k_lo":-0.2,"k_hi":0.1,"r_lo":-0.5,"r_hi":0.1,"b_lo":-0.1,"b_hi":0.3},
{"lat":50,"k_lo":-0.3,"k_hi":0,"r_lo":-0.6,"r_hi":0,"b_lo":-0.1,"b_hi":0.3},
{"lat":60,"k_lo":-0.2,"k_hi":0.05,"r_lo":-0.35,"r_hi":0.1,"b_lo":-0.1,"b_hi":0.1},
{"lat":70,"k_lo":-0.05,"k_hi":0.1,"r_lo":-0.1,"r_hi":0.25,"b_lo":0,"b_hi":0},
{"lat":80,"k_lo":0,"k_hi":0.05,"r_lo":-0.05,"r_hi":0.15,"b_lo":0,"b_hi":0},
{"lat":90,"k_lo":0,"k_hi":0,"r_lo":0,"r_hi":0,"b_lo":0,"b_hi":0}
]
},
"columns": 2,
"spacing": {"row": 54.5, "column": 107},
"bounds": "flush",
"concat": [
{
"width": 430, "height": 266,
"layer": [
 {"mark": {"type": "rule", "color": "#8c8c8c", "strokeWidth": 1.5},
  "encoding": {"x": {"datum": 0, "type": "quantitative", "scale": {"domain": [-90, 90], "nice": false, "zero": false},
   "axis": {"orient": "top", "values": [-80,-60,-40,-20,0,20,40,60,80], "labels": false, "grid": false, "ticks": true, "tickSize": -5,
    "title": "Dynamic Partition", "titleX": 211, "titleY": -1.7, "titleAlign": "center", "titleBaseline": "alphabetic", "titleAngle": 0, "titleFontSize": 17.5, "titleFontWeight": "bold"}}}},
 {"mark": {"type": "rule", "color": "#8c8c8c", "strokeWidth": 1.5},
  "encoding": {"y": {"datum": 0, "type": "quantitative", "scale": {"domain": [-8, 8], "nice": false, "zero": false},
   "axis": {"orient": "right", "values": [-6,-4,-2,0,2,4,6], "labels": false, "grid": false, "ticks": true, "tickSize": -5,
    "title": "CMIP5 PI and", "titleX": -195, "titleY": -22.4, "titleAlign": "left", "titleBaseline": "alphabetic", "titleAngle": 0, "titleFontSize": 22.5, "titleFontWeight": "normal"}}}},
 {"data": {"name": "A_sp"}, "mark": {"type": "area", "interpolate": "monotone", "color": "#000000", "opacity": 0.13},
  "encoding": {"x": {"field": "lat", "type": "quantitative", "axis": null}, "y": {"field": "t_lo", "type": "quantitative", "axis": null}, "y2": {"field": "t_hi"}}},
 {"data": {"name": "A_sp"}, "mark": {"type": "area", "interpolate": "monotone", "color": "#ff0000", "opacity": 0.1},
  "encoding": {"x": {"field": "lat", "type": "quantitative", "axis": null}, "y": {"field": "e_lo", "type": "quantitative", "axis": null}, "y2": {"field": "e_hi"}}},
 {"data": {"name": "A_sp"}, "mark": {"type": "area", "interpolate": "monotone", "color": "#0000ff", "opacity": 0.1},
  "encoding": {"x": {"field": "lat", "type": "quantitative", "axis": null}, "y": {"field": "m_lo", "type": "quantitative", "axis": null}, "y2": {"field": "m_hi"}}},
 {"data": {"name": "A_sp"}, "mark": {"type": "area", "interpolate": "monotone", "color": "#00a000", "opacity": 0.1},
  "encoding": {"x": {"field": "lat", "type": "quantitative", "axis": null}, "y": {"field": "s_lo", "type": "quantitative", "axis": null}, "y2": {"field": "s_hi"}}},
 {"data": {"name": "A_pi"},
  "transform": [{"fold": ["Total","MOC","Stationary Eddies","Transient Eddies"], "as": ["series","v"]}],
  "mark": {"type": "line", "interpolate": "monotone", "strokeWidth": 2.2},
  "encoding": {
   "x": {"field": "lat", "type": "quantitative", "axis": {"orient": "bottom", "values": [-80,-60,-40,-20,0,20,40,60,80], "labelExpr": "datum.value == 0 ? 'EQ' : (datum.value < 0 ? (-datum.value) + 'S' : datum.value + 'N')", "grid": true, "labelPadding": 3,
     "title": "DJF", "titleX": 187, "titleY": -288.4, "titleAlign": "left", "titleBaseline": "alphabetic", "titleAngle": 0, "titleFontSize": 22.5, "titleFontWeight": "bold"}},
   "y": {"field": "v", "type": "quantitative", "axis": {"orient": "left", "values": [-6,-4,-2,0,2,4,6], "labelExpr": "datum.value < 0 ? '-' + abs(datum.value) : '' + datum.value", "grid": true, "labelPadding": 4.7,
     "title": "Meridional Heat Transport (PW)", "titleX": -29.5, "titleY": 126.3, "titleAngle": 270, "titleBaseline": "middle", "titleAlign": "center", "titleFontSize": 16, "titleFontWeight": "normal"}},
   "color": {"field": "series", "type": "nominal", "scale": {"domain": ["Total","MOC","Stationary Eddies","Transient Eddies"], "range": ["#000000","#0000ff","#00a000","#ff0000"]},
     "legend": {"orient": "none", "legendX": -23.7, "legendY": -33.7, "direction": "vertical", "title": "A", "titleFontSize": 27, "titleFontWeight": "bold", "titleColor": "#222222", "titleAnchor": "start", "titlePadding": 20.3, "symbolSize": 0, "symbolOpacity": 0, "symbolStrokeWidth": 0, "labelOffset": 31.5, "labelFontSize": 16, "labelFontWeight": "bold", "rowPadding": 0, "padding": 0,
       "labelColor": {"expr": "datum.label == 'MOC' || datum.label == 'Moisture (latent)' ? '#0000ff' : datum.label == 'Stationary Eddies' ? '#00a000' : (datum.label == 'Total' || datum.label == 'Moist Static Energy') ? '#111111' : '#ff0000'"}}},
   "strokeDash": {"datum": "Pre-industrial", "type": "nominal", "scale": {"domain": ["Pre-industrial","4XCO₂"], "range": [[1,0],[6,4]]},
     "legend": {"orient": "none", "legendX": 246, "legendY": 181.5, "direction": "vertical", "title": null, "symbolType": "stroke", "symbolSize": 361, "symbolStrokeWidth": 2, "symbolStrokeColor": "#111111", "labelFontSize": 15, "labelFontWeight": "bold", "labelColor": "#222222", "labelOffset": 8, "rowPadding": 1, "padding": 0}}
  }},
 {"data": {"name": "A_4x"},
  "transform": [{"fold": ["Total","MOC","Stationary Eddies","Transient Eddies"], "as": ["series","v"]}],
  "mark": {"type": "line", "interpolate": "monotone", "strokeWidth": 2.2},
  "encoding": {
   "x": {"field": "lat", "type": "quantitative", "axis": null},
   "y": {"field": "v", "type": "quantitative", "axis": null},
   "color": {"field": "series", "type": "nominal"},
   "strokeDash": {"datum": "4XCO₂", "type": "nominal"}
  }}
],
"resolve": {"axis": {"x": "independent", "y": "independent"}}
},
{
"width": 428, "height": 266,
"layer": [
 {"mark": {"type": "rule", "color": "#8c8c8c", "strokeWidth": 1.5},
  "encoding": {"x": {"datum": 0, "type": "quantitative", "scale": {"domain": [-90, 88], "nice": false, "zero": false},
   "axis": {"orient": "top", "values": [-80,-60,-40,-20,0,20,40,60,80], "labels": false, "grid": false, "ticks": true, "tickSize": -5,
    "title": "Dynamic Change", "titleX": 204, "titleY": -1.7, "titleAlign": "center", "titleBaseline": "alphabetic", "titleAngle": 0, "titleFontSize": 17.5, "titleFontWeight": "bold"}}}},
 {"mark": {"type": "rule", "color": "#8c8c8c", "strokeWidth": 1.5},
  "encoding": {"y": {"datum": 0, "type": "quantitative", "scale": {"domain": [-1.2, 1.2], "nice": false, "zero": false},
   "axis": {"orient": "right", "values": [-1,-0.5,0,0.5,1], "labels": false, "grid": false, "ticks": true, "tickSize": -5,
    "title": "B", "titleX": -14, "titleY": -11.7, "titleAlign": "center", "titleBaseline": "alphabetic", "titleAngle": 0, "titleFontSize": 27, "titleFontWeight": "bold"}}}},
 {"data": {"name": "B_sp"}, "mark": {"type": "area", "interpolate": "monotone", "color": "#000000", "opacity": 0.07},
  "encoding": {"x": {"field": "lat", "type": "quantitative", "axis": null}, "y": {"field": "t_lo", "type": "quantitative", "axis": null}, "y2": {"field": "t_hi"}}},
 {"data": {"name": "B_sp"}, "mark": {"type": "area", "interpolate": "monotone", "color": "#ff0000", "opacity": 0.06},
  "encoding": {"x": {"field": "lat", "type": "quantitative", "axis": null}, "y": {"field": "e_lo", "type": "quantitative", "axis": null}, "y2": {"field": "e_hi"}}},
 {"data": {"name": "B_sp"}, "mark": {"type": "area", "interpolate": "monotone", "color": "#0000ff", "opacity": 0.05},
  "encoding": {"x": {"field": "lat", "type": "quantitative", "axis": null}, "y": {"field": "m_lo", "type": "quantitative", "axis": null}, "y2": {"field": "m_hi"}}},
 {"data": {"name": "B_sp"}, "mark": {"type": "area", "interpolate": "monotone", "color": "#00a000", "opacity": 0.05},
  "encoding": {"x": {"field": "lat", "type": "quantitative", "axis": null}, "y": {"field": "s_lo", "type": "quantitative", "axis": null}, "y2": {"field": "s_hi"}}},
 {"data": {"name": "B"},
  "transform": [{"fold": ["Total","MOC","Stationary Eddies","Transient Eddies"], "as": ["series","v"]}],
  "mark": {"type": "line", "interpolate": "monotone", "strokeWidth": 2.2},
  "encoding": {
   "x": {"field": "lat", "type": "quantitative", "axis": {"orient": "bottom", "values": [-80,-60,-40,-20,0,20,40,60,80], "labelExpr": "datum.value == 0 ? 'EQ' : (datum.value < 0 ? (-datum.value) + 'S' : datum.value + 'N')", "grid": true, "labelPadding": 3,
     "title": "4XCO₂", "titleX": -153, "titleY": -288.4, "titleAlign": "left", "titleBaseline": "alphabetic", "titleAngle": 0, "titleFontSize": 22.5, "titleFontWeight": "bold"}},
   "y": {"field": "v", "type": "quantitative", "axis": {"orient": "left", "values": [-1,-0.5,0,0.5,1], "labelExpr": "datum.value == 0 ? '0' : (datum.value < 0 ? '-' : '') + format(abs(datum.value), '.1f')", "grid": true, "labelPadding": 10,
     "title": "Heat Transport Change (PW)", "titleX": -58, "titleY": 131.3, "titleAngle": 270, "titleBaseline": "middle", "titleAlign": "center", "titleFontSize": 16, "titleFontWeight": "normal"}},
   "color": {"field": "series", "type": "nominal", "scale": {"domain": ["Total","MOC","Stationary Eddies","Transient Eddies"], "range": ["#000000","#0000ff","#00a000","#ff0000"]},
     "legend": {"orient": "none", "legendX": -77, "legendY": -40.2, "direction": "vertical", "title": "Atmospheric Heat Transport", "titleFontSize": 22.5, "titleFontWeight": "normal", "titleColor": "#222222", "titleAnchor": "start", "titlePadding": 41, "symbolSize": 0, "symbolOpacity": 0, "symbolStrokeWidth": 0, "labelOffset": 132.8, "labelFontSize": 16, "labelFontWeight": "bold", "rowPadding": 0, "padding": 0,
       "labelColor": {"expr": "datum.label == 'MOC' || datum.label == 'Moisture (latent)' ? '#0000ff' : datum.label == 'Stationary Eddies' ? '#00a000' : (datum.label == 'Total' || datum.label == 'Moist Static Energy') ? '#111111' : '#ff0000'"}}}
  }}
],
"resolve": {"axis": {"x": "independent", "y": "independent"}}
},
{
"width": 430, "height": 262,
"layer": [
 {"mark": {"type": "rule", "color": "#8c8c8c", "strokeWidth": 1.5},
  "encoding": {"x": {"datum": 0, "type": "quantitative", "scale": {"domain": [-90, 90], "nice": false, "zero": false},
   "axis": {"orient": "top", "values": [-80,-60,-40,-20,0,20,40,60,80], "labels": false, "grid": false, "ticks": true, "tickSize": -5,
    "title": "Moist/Dry Partition", "titleX": 220, "titleY": -5.5, "titleAlign": "center", "titleBaseline": "alphabetic", "titleAngle": 0, "titleFontSize": 17.5, "titleFontWeight": "bold"}}}},
 {"mark": {"type": "rule", "color": "#8c8c8c", "strokeWidth": 1.5},
  "encoding": {"y": {"datum": 0, "type": "quantitative", "scale": {"domain": [-12, 12], "nice": false, "zero": false},
   "axis": {"orient": "right", "values": [-10,-5,0,5,10], "labels": false, "grid": false, "ticks": true, "tickSize": -5,
    "title": "C", "titleX": -445, "titleY": -14.2, "titleAlign": "center", "titleBaseline": "alphabetic", "titleAngle": 0, "titleFontSize": 27, "titleFontWeight": "bold"}}}},
 {"data": {"name": "C_sp"}, "mark": {"type": "area", "interpolate": "monotone", "color": "#000000", "opacity": 0.13},
  "encoding": {"x": {"field": "lat", "type": "quantitative", "axis": null}, "y": {"field": "k_lo", "type": "quantitative", "axis": null}, "y2": {"field": "k_hi"}}},
 {"data": {"name": "C_sp"}, "mark": {"type": "area", "interpolate": "monotone", "color": "#ff0000", "opacity": 0.1},
  "encoding": {"x": {"field": "lat", "type": "quantitative", "axis": null}, "y": {"field": "r_lo", "type": "quantitative", "axis": null}, "y2": {"field": "r_hi"}}},
 {"data": {"name": "C_sp"}, "mark": {"type": "area", "interpolate": "monotone", "color": "#0000ff", "opacity": 0.1},
  "encoding": {"x": {"field": "lat", "type": "quantitative", "axis": null}, "y": {"field": "b_lo", "type": "quantitative", "axis": null}, "y2": {"field": "b_hi"}}},
 {"data": {"name": "C_pi"},
  "transform": [{"fold": ["Moist Static Energy","Dry (potential +sensible)","Moisture (latent)"], "as": ["series","v"]}],
  "mark": {"type": "line", "interpolate": "monotone", "strokeWidth": 2.2},
  "encoding": {
   "x": {"field": "lat", "type": "quantitative", "axis": {"orient": "bottom", "values": [-80,-60,-40,-20,0,20,40,60,80], "labelExpr": "datum.value == 0 ? 'EQ' : (datum.value < 0 ? (-datum.value) + 'S' : datum.value + 'N')", "grid": true, "labelPadding": 3, "title": null}},
   "y": {"field": "v", "type": "quantitative", "axis": {"orient": "left", "values": [-10,-5,0,5,10], "labelExpr": "datum.value < 0 ? '-' + abs(datum.value) : '' + datum.value", "grid": true, "labelPadding": 4,
     "title": "Meridional Heat Transport (PW)", "titleX": -42, "titleY": 123.8, "titleAngle": 270, "titleBaseline": "middle", "titleAlign": "center", "titleFontSize": 16, "titleFontWeight": "normal"}},
   "color": {"field": "series", "type": "nominal", "scale": {"domain": ["Moist Static Energy","Dry (potential +sensible)","Moisture (latent)"], "range": ["#000000","#ff0000","#0000ff"]},
     "legend": {"orient": "none", "legendX": 6.8, "legendY": 8.1, "direction": "vertical", "title": null, "symbolSize": 0, "symbolOpacity": 0, "symbolStrokeWidth": 0, "labelOffset": 0, "labelFontSize": 16, "labelFontWeight": "bold", "rowPadding": 2, "padding": 0,
       "labelColor": {"expr": "datum.label == 'MOC' || datum.label == 'Moisture (latent)' ? '#0000ff' : datum.label == 'Stationary Eddies' ? '#00a000' : (datum.label == 'Total' || datum.label == 'Moist Static Energy') ? '#111111' : '#ff0000'"}}},
   "strokeDash": {"datum": "Pre-industrial", "type": "nominal", "scale": {"domain": ["Pre-industrial","4XCO₂"], "range": [[1,0],[6,4]]},
     "legend": {"orient": "none", "legendX": 246, "legendY": 178, "direction": "vertical", "title": null, "symbolType": "stroke", "symbolSize": 361, "symbolStrokeWidth": 2, "symbolStrokeColor": "#111111", "labelFontSize": 15, "labelFontWeight": "bold", "labelColor": "#222222", "labelOffset": 8, "rowPadding": 1, "padding": 0}}
  }},
 {"data": {"name": "C_4x"},
  "transform": [{"fold": ["Moist Static Energy","Dry (potential +sensible)","Moisture (latent)"], "as": ["series","v"]}],
  "mark": {"type": "line", "interpolate": "monotone", "strokeWidth": 2.2},
  "encoding": {
   "x": {"field": "lat", "type": "quantitative", "axis": null},
   "y": {"field": "v", "type": "quantitative", "axis": null},
   "color": {"field": "series", "type": "nominal"},
   "strokeDash": {"datum": "4XCO₂", "type": "nominal"}
  }}
],
"resolve": {"axis": {"x": "independent", "y": "independent"}}
},
{
"width": 428, "height": 262,
"layer": [
 {"mark": {"type": "rule", "color": "#8c8c8c", "strokeWidth": 1.5},
  "encoding": {"x": {"datum": 0, "type": "quantitative", "scale": {"domain": [-90, 88], "nice": false, "zero": false},
   "axis": {"orient": "top", "values": [-80,-60,-40,-20,0,20,40,60,80], "labels": false, "grid": false, "ticks": true, "tickSize": -5,
    "title": "Moist/Dry Change", "titleX": 213, "titleY": -5.5, "titleAlign": "center", "titleBaseline": "alphabetic", "titleAngle": 0, "titleFontSize": 17.5, "titleFontWeight": "bold"}}}},
 {"mark": {"type": "rule", "color": "#8c8c8c", "strokeWidth": 1.5},
  "encoding": {"y": {"datum": 0, "type": "quantitative", "scale": {"domain": [-3, 3], "nice": false, "zero": false},
   "axis": {"orient": "right", "values": [-2,-1,0,1,2], "labels": false, "grid": false, "ticks": true, "tickSize": -5,
    "title": "D", "titleX": -13, "titleY": -13.9, "titleAlign": "center", "titleBaseline": "alphabetic", "titleAngle": 0, "titleFontSize": 27, "titleFontWeight": "bold"}}}},
 {"data": {"name": "D_sp"}, "mark": {"type": "area", "interpolate": "monotone", "color": "#000000", "opacity": 0.07},
  "encoding": {"x": {"field": "lat", "type": "quantitative", "axis": null}, "y": {"field": "k_lo", "type": "quantitative", "axis": null}, "y2": {"field": "k_hi"}}},
 {"data": {"name": "D_sp"}, "mark": {"type": "area", "interpolate": "monotone", "color": "#ff0000", "opacity": 0.06},
  "encoding": {"x": {"field": "lat", "type": "quantitative", "axis": null}, "y": {"field": "r_lo", "type": "quantitative", "axis": null}, "y2": {"field": "r_hi"}}},
 {"data": {"name": "D_sp"}, "mark": {"type": "area", "interpolate": "monotone", "color": "#0000ff", "opacity": 0.06},
  "encoding": {"x": {"field": "lat", "type": "quantitative", "axis": null}, "y": {"field": "b_lo", "type": "quantitative", "axis": null}, "y2": {"field": "b_hi"}}},
 {"data": {"name": "D"},
  "transform": [{"fold": ["Moist Static Energy","Dry (potential +sensible)","Moisture (latent)"], "as": ["series","v"]}],
  "mark": {"type": "line", "interpolate": "monotone", "strokeWidth": 2.2},
  "encoding": {
   "x": {"field": "lat", "type": "quantitative", "axis": {"orient": "bottom", "values": [-80,-60,-40,-20,0,20,40,60,80], "labelExpr": "datum.value == 0 ? 'EQ' : (datum.value < 0 ? (-datum.value) + 'S' : datum.value + 'N')", "grid": true, "labelPadding": 3, "title": null}},
   "y": {"field": "v", "type": "quantitative", "axis": {"orient": "left", "values": [-2,-1,0,1,2], "labelExpr": "datum.value == 0 ? '0' : (datum.value < 0 ? '-' : '') + format(abs(datum.value), '.1f')", "grid": true, "labelPadding": 9,
     "title": "Heat Transport Change (PW)", "titleX": -46, "titleY": 128.8, "titleAngle": 270, "titleBaseline": "middle", "titleAlign": "center", "titleFontSize": 16, "titleFontWeight": "normal"}},
   "color": {"field": "series", "type": "nominal", "scale": {"domain": ["Moist Static Energy","Dry (potential +sensible)","Moisture (latent)"], "range": ["#000000","#ff0000","#0000ff"]},
     "legend": {"orient": "none", "legendX": -11.2, "legendY": 11.5, "direction": "vertical", "title": null, "symbolSize": 0, "symbolOpacity": 0, "symbolStrokeWidth": 0, "labelOffset": 0, "labelFontSize": 16, "labelFontWeight": "bold", "rowPadding": 3, "padding": 0,
       "labelColor": {"expr": "datum.label == 'MOC' || datum.label == 'Moisture (latent)' ? '#0000ff' : datum.label == 'Stationary Eddies' ? '#00a000' : (datum.label == 'Total' || datum.label == 'Moist Static Energy') ? '#111111' : '#ff0000'"}}}
  }}
],
"resolve": {"axis": {"x": "independent", "y": "independent"}}
},
{
"width": 430, "height": 266,
"layer": [
 {"mark": {"type": "rule", "color": "#8c8c8c", "strokeWidth": 1.5},
  "encoding": {"x": {"datum": 0, "type": "quantitative", "scale": {"domain": [-90, 90], "nice": false, "zero": false},
   "axis": {"orient": "top", "values": [-80,-60,-40,-20,0,20,40,60,80], "labels": false, "grid": false, "ticks": true, "tickSize": -5,
    "title": "Climatology", "titleX": 204.5, "titleY": -8.7, "titleAlign": "center", "titleBaseline": "alphabetic", "titleAngle": 0, "titleFontSize": 17.5, "titleFontWeight": "bold"}}}},
 {"mark": {"type": "rule", "color": "#8c8c8c", "strokeWidth": 1.5},
  "encoding": {"y": {"datum": 0, "type": "quantitative", "scale": {"domain": [-4, 4], "nice": false, "zero": false},
   "axis": {"orient": "right", "values": [-3,-2,-1,0,1,2,3], "labels": false, "grid": false, "ticks": true, "tickSize": -5,
    "title": "Stationary Eddies", "titleX": 50, "titleY": -7.2, "titleAlign": "center", "titleBaseline": "alphabetic", "titleAngle": 0, "titleFontSize": 30, "titleFontWeight": "bold", "titleColor": "#0b990b"}}}},
 {"data": {"name": "E_sp"}, "mark": {"type": "area", "interpolate": "monotone", "color": "#000000", "opacity": 0.13},
  "encoding": {"x": {"field": "lat", "type": "quantitative", "axis": null}, "y": {"field": "k_lo", "type": "quantitative", "axis": null}, "y2": {"field": "k_hi"}}},
 {"data": {"name": "E_sp"}, "mark": {"type": "area", "interpolate": "monotone", "color": "#ff0000", "opacity": 0.1},
  "encoding": {"x": {"field": "lat", "type": "quantitative", "axis": null}, "y": {"field": "r_lo", "type": "quantitative", "axis": null}, "y2": {"field": "r_hi"}}},
 {"data": {"name": "E_sp"}, "mark": {"type": "area", "interpolate": "monotone", "color": "#0000ff", "opacity": 0.1},
  "encoding": {"x": {"field": "lat", "type": "quantitative", "axis": null}, "y": {"field": "b_lo", "type": "quantitative", "axis": null}, "y2": {"field": "b_hi"}}},
 {"data": {"name": "E_pi"},
  "transform": [{"fold": ["Moist Static Energy","Dry (potential +sensible)","Moisture (latent)"], "as": ["series","v"]}],
  "mark": {"type": "line", "interpolate": "monotone", "strokeWidth": 2.2},
  "encoding": {
   "x": {"field": "lat", "type": "quantitative", "axis": {"orient": "bottom", "values": [-80,-60,-40,-20,0,20,40,60,80], "labelExpr": "datum.value == 0 ? 'EQ' : (datum.value < 0 ? (-datum.value) + 'S' : datum.value + 'N')", "grid": true, "labelPadding": 3,
     "title": "E", "titleX": -15.5, "titleY": -281, "titleAlign": "center", "titleBaseline": "alphabetic", "titleAngle": 0, "titleFontSize": 27, "titleFontWeight": "bold"}},
   "y": {"field": "v", "type": "quantitative", "axis": {"orient": "left", "values": [-4,-3,-2,-1,0,1,2,3,4], "labelExpr": "datum.value % 2 != 0 ? '' : datum.value == 0 ? '0' : (datum.value < 0 ? '-' : '') + format(abs(datum.value), '.1f')", "grid": true, "labelPadding": 4.5,
     "title": "Meridional Heat Transport (PW)", "titleX": -45.5, "titleY": 128.3, "titleAngle": 270, "titleBaseline": "middle", "titleAlign": "center", "titleFontSize": 16, "titleFontWeight": "normal"}},
   "color": {"field": "series", "type": "nominal", "scale": {"domain": ["Moist Static Energy","Dry (potential +sensible)","Moisture (latent)"], "range": ["#000000","#ff0000","#0000ff"]},
     "legend": {"orient": "none", "legendX": 6.2, "legendY": 9, "direction": "vertical", "title": null, "symbolSize": 0, "symbolOpacity": 0, "symbolStrokeWidth": 0, "labelOffset": 0, "labelFontSize": 16, "labelFontWeight": "bold", "rowPadding": 2, "padding": 0,
       "labelColor": {"expr": "datum.label == 'MOC' || datum.label == 'Moisture (latent)' ? '#0000ff' : datum.label == 'Stationary Eddies' ? '#00a000' : (datum.label == 'Total' || datum.label == 'Moist Static Energy') ? '#111111' : '#ff0000'"}}},
   "strokeDash": {"datum": "Pre-industrial", "type": "nominal", "scale": {"domain": ["Pre-industrial","4XCO₂"], "range": [[1,0],[6,4]]},
     "legend": {"orient": "none", "legendX": 246, "legendY": 178.8, "direction": "vertical", "title": null, "symbolType": "stroke", "symbolSize": 361, "symbolStrokeWidth": 2, "symbolStrokeColor": "#111111", "labelFontSize": 15, "labelFontWeight": "bold", "labelColor": "#222222", "labelOffset": 8, "rowPadding": 1, "padding": 0}}
  }},
 {"data": {"name": "E_4x"},
  "transform": [{"fold": ["Moist Static Energy","Dry (potential +sensible)","Moisture (latent)"], "as": ["series","v"]}],
  "mark": {"type": "line", "interpolate": "monotone", "strokeWidth": 2.2},
  "encoding": {
   "x": {"field": "lat", "type": "quantitative", "axis": null},
   "y": {"field": "v", "type": "quantitative", "axis": null},
   "color": {"field": "series", "type": "nominal"},
   "strokeDash": {"datum": "4XCO₂", "type": "nominal"}
  }}
],
"resolve": {"axis": {"x": "independent", "y": "independent"}}
},
{
"width": 428, "height": 266,
"layer": [
 {"mark": {"type": "rule", "color": "#8c8c8c", "strokeWidth": 1.5},
  "encoding": {"x": {"datum": 0, "type": "quantitative", "scale": {"domain": [-90, 88], "nice": false, "zero": false},
   "axis": {"orient": "top", "values": [-80,-60,-40,-20,0,20,40,60,80], "labels": false, "grid": false, "ticks": true, "tickSize": -5,
    "title": "Change", "titleX": 213.5, "titleY": -8.7, "titleAlign": "center", "titleBaseline": "alphabetic", "titleAngle": 0, "titleFontSize": 17.5, "titleFontWeight": "bold"}}}},
 {"mark": {"type": "rule", "color": "#8c8c8c", "strokeWidth": 1.5},
  "encoding": {"y": {"datum": 0, "type": "quantitative", "scale": {"domain": [-1.5, 1.5], "nice": false, "zero": false},
   "axis": {"orient": "right", "values": [-1,-0.5,0,0.5,1], "labels": false, "grid": false, "ticks": true, "tickSize": -5,
    "title": "F", "titleX": -15, "titleY": -15, "titleAlign": "center", "titleBaseline": "alphabetic", "titleAngle": 0, "titleFontSize": 27, "titleFontWeight": "bold"}}}},
 {"data": {"name": "F_sp"}, "mark": {"type": "area", "interpolate": "monotone", "color": "#000000", "opacity": 0.07},
  "encoding": {"x": {"field": "lat", "type": "quantitative", "axis": null}, "y": {"field": "k_lo", "type": "quantitative", "axis": null}, "y2": {"field": "k_hi"}}},
 {"data": {"name": "F_sp"}, "mark": {"type": "area", "interpolate": "monotone", "color": "#ff0000", "opacity": 0.06},
  "encoding": {"x": {"field": "lat", "type": "quantitative", "axis": null}, "y": {"field": "r_lo", "type": "quantitative", "axis": null}, "y2": {"field": "r_hi"}}},
 {"data": {"name": "F_sp"}, "mark": {"type": "area", "interpolate": "monotone", "color": "#0000ff", "opacity": 0.06},
  "encoding": {"x": {"field": "lat", "type": "quantitative", "axis": null}, "y": {"field": "b_lo", "type": "quantitative", "axis": null}, "y2": {"field": "b_hi"}}},
 {"data": {"name": "F"},
  "transform": [{"fold": ["Moist Static Energy","Dry (potential +sensible)","Moisture (latent)"], "as": ["series","v"]}],
  "mark": {"type": "line", "interpolate": "monotone", "strokeWidth": 2.2},
  "encoding": {
   "x": {"field": "lat", "type": "quantitative", "axis": {"orient": "bottom", "values": [-80,-60,-40,-20,0,20,40,60,80], "labelExpr": "datum.value == 0 ? 'EQ' : (datum.value < 0 ? (-datum.value) + 'S' : datum.value + 'N')", "grid": true, "labelPadding": 3, "title": null}},
   "y": {"field": "v", "type": "quantitative", "axis": {"orient": "left", "values": [-1,-0.5,0,0.5,1], "labelExpr": "datum.value == 0 ? '0' : (datum.value < 0 ? '-' : '') + format(abs(datum.value), '.1f')", "grid": true, "labelPadding": 9,
     "title": "Heat Transport Change (PW)", "titleX": -51, "titleY": 129.3, "titleAngle": 270, "titleBaseline": "middle", "titleAlign": "center", "titleFontSize": 16, "titleFontWeight": "normal"}},
   "color": {"field": "series", "type": "nominal", "scale": {"domain": ["Moist Static Energy","Dry (potential +sensible)","Moisture (latent)"], "range": ["#000000","#ff0000","#0000ff"]},
     "legend": {"orient": "none", "legendX": 3.2, "legendY": 43.3, "direction": "vertical", "title": null, "symbolSize": 0, "symbolOpacity": 0, "symbolStrokeWidth": 0, "labelOffset": 0, "labelFontSize": 16, "labelFontWeight": "bold", "rowPadding": 3, "padding": 0,
       "labelColor": {"expr": "datum.label == 'MOC' || datum.label == 'Moisture (latent)' ? '#0000ff' : datum.label == 'Stationary Eddies' ? '#00a000' : (datum.label == 'Total' || datum.label == 'Moist Static Energy') ? '#111111' : '#ff0000'"}}}
  }}
],
"resolve": {"axis": {"x": "independent", "y": "independent"}}
},
{
"width": 430, "height": 266,
"layer": [
 {"mark": {"type": "rule", "color": "#8c8c8c", "strokeWidth": 1.5},
  "encoding": {"x": {"datum": 0, "type": "quantitative", "scale": {"domain": [-90, 90], "nice": false, "zero": false},
   "axis": {"orient": "top", "values": [-80,-60,-40,-20,0,20,40,60,80], "labels": false, "grid": false, "ticks": true, "tickSize": -5,
    "title": "Climatology", "titleX": 190.5, "titleY": -7.5, "titleAlign": "center", "titleBaseline": "alphabetic", "titleAngle": 0, "titleFontSize": 17.5, "titleFontWeight": "bold"}}}},
 {"mark": {"type": "rule", "color": "#8c8c8c", "strokeWidth": 1.5},
  "encoding": {"y": {"datum": 0, "type": "quantitative", "scale": {"domain": [-8, 8], "nice": false, "zero": false},
   "axis": {"orient": "right", "values": [-6,-4,-2,0,2,4,6], "labels": false, "grid": false, "ticks": true, "tickSize": -5,
    "title": "Transient Eddies", "titleX": 44, "titleY": -9.2, "titleAlign": "center", "titleBaseline": "alphabetic", "titleAngle": 0, "titleFontSize": 30, "titleFontWeight": "bold", "titleColor": "#ff0000"}}}},
 {"data": {"name": "G_sp"}, "mark": {"type": "area", "interpolate": "monotone", "color": "#000000", "opacity": 0.13},
  "encoding": {"x": {"field": "lat", "type": "quantitative", "axis": null}, "y": {"field": "k_lo", "type": "quantitative", "axis": null}, "y2": {"field": "k_hi"}}},
 {"data": {"name": "G_sp"}, "mark": {"type": "area", "interpolate": "monotone", "color": "#ff0000", "opacity": 0.1},
  "encoding": {"x": {"field": "lat", "type": "quantitative", "axis": null}, "y": {"field": "r_lo", "type": "quantitative", "axis": null}, "y2": {"field": "r_hi"}}},
 {"data": {"name": "G_sp"}, "mark": {"type": "area", "interpolate": "monotone", "color": "#0000ff", "opacity": 0.1},
  "encoding": {"x": {"field": "lat", "type": "quantitative", "axis": null}, "y": {"field": "b_lo", "type": "quantitative", "axis": null}, "y2": {"field": "b_hi"}}},
 {"data": {"name": "G_pi"},
  "transform": [{"fold": ["Moist Static Energy","Dry (potential +sensible)","Moisture (latent)"], "as": ["series","v"]}],
  "mark": {"type": "line", "interpolate": "monotone", "strokeWidth": 2.2},
  "encoding": {
   "x": {"field": "lat", "type": "quantitative", "axis": {"orient": "bottom", "values": [-80,-60,-40,-20,0,20,40,60,80], "labelExpr": "datum.value == 0 ? 'EQ' : (datum.value < 0 ? (-datum.value) + 'S' : datum.value + 'N')", "grid": true, "labelPadding": 3,
     "title": "G", "titleX": -14, "titleY": -281.5, "titleAlign": "center", "titleBaseline": "alphabetic", "titleAngle": 0, "titleFontSize": 27, "titleFontWeight": "bold"}},
   "y": {"field": "v", "type": "quantitative", "axis": {"orient": "left", "values": [-6,-4,-2,0,2,4,6], "labelExpr": "datum.value < 0 ? '-' + abs(datum.value) : '' + datum.value", "grid": true, "labelPadding": 4.7,
     "title": "Meridional Heat Transport (PW)", "titleX": -45.5, "titleY": 125.8, "titleAngle": 270, "titleBaseline": "middle", "titleAlign": "center", "titleFontSize": 16, "titleFontWeight": "normal"}},
   "color": {"field": "series", "type": "nominal", "scale": {"domain": ["Moist Static Energy","Dry (potential +sensible)","Moisture (latent)"], "range": ["#000000","#ff0000","#0000ff"]},
     "legend": {"orient": "none", "legendX": 6.2, "legendY": 5.5, "direction": "vertical", "title": null, "symbolSize": 0, "symbolOpacity": 0, "symbolStrokeWidth": 0, "labelOffset": 0, "labelFontSize": 16, "labelFontWeight": "bold", "rowPadding": 3, "padding": 0,
       "labelColor": {"expr": "datum.label == 'MOC' || datum.label == 'Moisture (latent)' ? '#0000ff' : datum.label == 'Stationary Eddies' ? '#00a000' : (datum.label == 'Total' || datum.label == 'Moist Static Energy') ? '#111111' : '#ff0000'"}}},
   "strokeDash": {"datum": "Pre-industrial", "type": "nominal", "scale": {"domain": ["Pre-industrial","4XCO₂"], "range": [[1,0],[6,4]]},
     "legend": {"orient": "none", "legendX": 246, "legendY": 176, "direction": "vertical", "title": null, "symbolType": "stroke", "symbolSize": 361, "symbolStrokeWidth": 2, "symbolStrokeColor": "#111111", "labelFontSize": 15, "labelFontWeight": "bold", "labelColor": "#222222", "labelOffset": 8, "rowPadding": 1, "padding": 0}}
  }},
 {"data": {"name": "G_4x"},
  "transform": [{"fold": ["Moist Static Energy","Dry (potential +sensible)","Moisture (latent)"], "as": ["series","v"]}],
  "mark": {"type": "line", "interpolate": "monotone", "strokeWidth": 2.2},
  "encoding": {
   "x": {"field": "lat", "type": "quantitative", "axis": null},
   "y": {"field": "v", "type": "quantitative", "axis": null},
   "color": {"field": "series", "type": "nominal"},
   "strokeDash": {"datum": "4XCO₂", "type": "nominal"}
  }}
],
"resolve": {"axis": {"x": "independent", "y": "independent"}}
},
{
"width": 428, "height": 266,
"layer": [
 {"mark": {"type": "rule", "color": "#8c8c8c", "strokeWidth": 1.5},
  "encoding": {"x": {"datum": 0, "type": "quantitative", "scale": {"domain": [-90, 88], "nice": false, "zero": false},
   "axis": {"orient": "top", "values": [-80,-60,-40,-20,0,20,40,60,80], "labels": false, "grid": false, "ticks": true, "tickSize": -5,
    "title": "Change", "titleX": 213, "titleY": -7.5, "titleAlign": "center", "titleBaseline": "alphabetic", "titleAngle": 0, "titleFontSize": 17.5, "titleFontWeight": "bold"}}}},
 {"mark": {"type": "rule", "color": "#8c8c8c", "strokeWidth": 1.5},
  "encoding": {"y": {"datum": 0, "type": "quantitative", "scale": {"domain": [-1.5, 1.5], "nice": false, "zero": false},
   "axis": {"orient": "right", "values": [-1,-0.5,0,0.5,1], "labels": false, "grid": false, "ticks": true, "tickSize": -5,
    "title": "H", "titleX": -14, "titleY": -15.5, "titleAlign": "center", "titleBaseline": "alphabetic", "titleAngle": 0, "titleFontSize": 27, "titleFontWeight": "bold"}}}},
 {"data": {"name": "H_sp"}, "mark": {"type": "area", "interpolate": "monotone", "color": "#000000", "opacity": 0.07},
  "encoding": {"x": {"field": "lat", "type": "quantitative", "axis": null}, "y": {"field": "k_lo", "type": "quantitative", "axis": null}, "y2": {"field": "k_hi"}}},
 {"data": {"name": "H_sp"}, "mark": {"type": "area", "interpolate": "monotone", "color": "#ff0000", "opacity": 0.06},
  "encoding": {"x": {"field": "lat", "type": "quantitative", "axis": null}, "y": {"field": "r_lo", "type": "quantitative", "axis": null}, "y2": {"field": "r_hi"}}},
 {"data": {"name": "H_sp"}, "mark": {"type": "area", "interpolate": "monotone", "color": "#0000ff", "opacity": 0.06},
  "encoding": {"x": {"field": "lat", "type": "quantitative", "axis": null}, "y": {"field": "b_lo", "type": "quantitative", "axis": null}, "y2": {"field": "b_hi"}}},
 {"data": {"name": "H"},
  "transform": [{"fold": ["Moist Static Energy","Dry (potential +sensible)","Moisture (latent)"], "as": ["series","v"]}],
  "mark": {"type": "line", "interpolate": "monotone", "strokeWidth": 2.2},
  "encoding": {
   "x": {"field": "lat", "type": "quantitative", "axis": {"orient": "bottom", "values": [-80,-60,-40,-20,0,20,40,60,80], "labelExpr": "datum.value == 0 ? 'EQ' : (datum.value < 0 ? (-datum.value) + 'S' : datum.value + 'N')", "grid": true, "labelPadding": 3, "title": null}},
   "y": {"field": "v", "type": "quantitative", "axis": {"orient": "left", "values": [-1,-0.5,0,0.5,1], "labelExpr": "datum.value == 0 ? '0' : (datum.value < 0 ? '-' : '') + format(abs(datum.value), '.1f')", "grid": true, "labelPadding": 9,
     "title": "Heat Transport Change (PW)", "titleX": -51, "titleY": 126.8, "titleAngle": 270, "titleBaseline": "middle", "titleAlign": "center", "titleFontSize": 16, "titleFontWeight": "normal"}},
   "color": {"field": "series", "type": "nominal", "scale": {"domain": ["Moist Static Energy","Dry (potential +sensible)","Moisture (latent)"], "range": ["#000000","#ff0000","#0000ff"]},
     "legend": {"orient": "none", "legendX": 118.2, "legendY": 192.1, "direction": "vertical", "title": null, "symbolSize": 0, "symbolOpacity": 0, "symbolStrokeWidth": 0, "labelOffset": 0, "labelFontSize": 16, "labelFontWeight": "bold", "rowPadding": 3, "padding": 0,
       "labelColor": {"expr": "datum.label == 'MOC' || datum.label == 'Moisture (latent)' ? '#0000ff' : datum.label == 'Stationary Eddies' ? '#00a000' : (datum.label == 'Total' || datum.label == 'Moist Static Energy') ? '#111111' : '#ff0000'"}}}
  }}
],
"resolve": {"axis": {"x": "independent", "y": "independent"}}
},
{
"width": 430, "height": 266,
"layer": [
 {"mark": {"type": "rule", "color": "#8c8c8c", "strokeWidth": 1.5},
  "encoding": {"x": {"datum": 0, "type": "quantitative", "scale": {"domain": [-90, 90], "nice": false, "zero": false},
   "axis": {"orient": "top", "values": [-80,-60,-40,-20,0,20,40,60,80], "labels": false, "grid": false, "ticks": true, "tickSize": -5,
    "title": "Climatology", "titleX": 191.5, "titleY": -4.7, "titleAlign": "center", "titleBaseline": "alphabetic", "titleAngle": 0, "titleFontSize": 17.5, "titleFontWeight": "bold"}}}},
 {"mark": {"type": "rule", "color": "#8c8c8c", "strokeWidth": 1.5},
  "encoding": {"y": {"datum": 0, "type": "quantitative", "scale": {"domain": [-11, 11], "nice": false, "zero": false},
   "axis": {"orient": "right", "values": [-10,-5,0,5,10], "labels": false, "grid": false, "ticks": true, "tickSize": -5,
    "title": "Mass Overturning", "titleX": 51.7, "titleY": -3, "titleAlign": "center", "titleBaseline": "alphabetic", "titleAngle": 0, "titleFontSize": 30, "titleFontWeight": "bold", "titleColor": "#0000ff"}}}},
 {"data": {"name": "I_sp"}, "mark": {"type": "area", "interpolate": "monotone", "color": "#000000", "opacity": 0.13},
  "encoding": {"x": {"field": "lat", "type": "quantitative", "axis": null}, "y": {"field": "k_lo", "type": "quantitative", "axis": null}, "y2": {"field": "k_hi"}}},
 {"data": {"name": "I_sp"}, "mark": {"type": "area", "interpolate": "monotone", "color": "#ff0000", "opacity": 0.1},
  "encoding": {"x": {"field": "lat", "type": "quantitative", "axis": null}, "y": {"field": "r_lo", "type": "quantitative", "axis": null}, "y2": {"field": "r_hi"}}},
 {"data": {"name": "I_sp"}, "mark": {"type": "area", "interpolate": "monotone", "color": "#0000ff", "opacity": 0.1},
  "encoding": {"x": {"field": "lat", "type": "quantitative", "axis": null}, "y": {"field": "b_lo", "type": "quantitative", "axis": null}, "y2": {"field": "b_hi"}}},
 {"data": {"name": "I_pi"},
  "transform": [{"fold": ["Moist Static Energy","Dry (potential +sensible)","Moisture (latent)"], "as": ["series","v"]}],
  "mark": {"type": "line", "interpolate": "monotone", "strokeWidth": 2.2},
  "encoding": {
   "x": {"field": "lat", "type": "quantitative", "axis": {"orient": "bottom", "values": [-80,-60,-40,-20,0,20,40,60,80], "labelExpr": "datum.value == 0 ? 'EQ' : (datum.value < 0 ? (-datum.value) + 'S' : datum.value + 'N')", "grid": true, "labelPadding": 3,
     "title": "I", "titleX": -20.5, "titleY": -270.4, "titleAlign": "center", "titleBaseline": "alphabetic", "titleAngle": 0, "titleFontSize": 27, "titleFontWeight": "bold"}},
   "y": {"field": "v", "type": "quantitative", "axis": {"orient": "left", "values": [-10,-5,0,5,10], "labelExpr": "datum.value < 0 ? '-' + abs(datum.value) : '' + datum.value", "grid": true, "labelPadding": 4,
     "title": "Meridional Heat Transport (PW)", "titleX": -45, "titleY": 131.3, "titleAngle": 270, "titleBaseline": "middle", "titleAlign": "center", "titleFontSize": 16, "titleFontWeight": "normal"}},
   "color": {"field": "series", "type": "nominal", "scale": {"domain": ["Moist Static Energy","Moisture (latent)","Dry (potential +sensible)"], "range": ["#000000","#0000ff","#ff0000"]},
     "legend": {"orient": "none", "legendX": 401.5, "legendY": 191.6, "direction": "vertical", "title": null, "symbolSize": 0, "symbolOpacity": 0, "symbolStrokeWidth": 0, "labelOffset": 0, "labelAlign": "right", "labelFontSize": 16, "labelFontWeight": "bold", "rowPadding": 4, "padding": 0,
       "labelColor": {"expr": "datum.label == 'MOC' || datum.label == 'Moisture (latent)' ? '#0000ff' : datum.label == 'Stationary Eddies' ? '#00a000' : (datum.label == 'Total' || datum.label == 'Moist Static Energy') ? '#111111' : '#ff0000'"}}},
   "strokeDash": {"datum": "Pre-industrial", "type": "nominal", "scale": {"domain": ["Pre-industrial","4XCO₂"], "range": [[1,0],[6,4]]},
     "legend": {"orient": "none", "legendX": 19, "legendY": 20.5, "direction": "vertical", "title": null, "symbolType": "stroke", "symbolSize": 361, "symbolStrokeWidth": 2, "symbolStrokeColor": "#111111", "labelFontSize": 15, "labelFontWeight": "bold", "labelColor": "#222222", "labelOffset": 7, "rowPadding": 1, "padding": 0}}
  }},
 {"data": {"name": "I_4x"},
  "transform": [{"fold": ["Moist Static Energy","Dry (potential +sensible)","Moisture (latent)"], "as": ["series","v"]}],
  "mark": {"type": "line", "interpolate": "monotone", "strokeWidth": 2.2},
  "encoding": {
   "x": {"field": "lat", "type": "quantitative", "axis": null},
   "y": {"field": "v", "type": "quantitative", "axis": null},
   "color": {"field": "series", "type": "nominal"},
   "strokeDash": {"datum": "4XCO₂", "type": "nominal"}
  }}
],
"resolve": {"axis": {"x": "independent", "y": "independent"}}
},
{
"width": 428, "height": 266,
"layer": [
 {"mark": {"type": "rule", "color": "#8c8c8c", "strokeWidth": 1.5},
  "encoding": {"x": {"datum": 0, "type": "quantitative", "scale": {"domain": [-90, 88], "nice": false, "zero": false},
   "axis": {"orient": "top", "values": [-80,-60,-40,-20,0,20,40,60,80], "labels": false, "grid": false, "ticks": true, "tickSize": -5,
    "title": "Change", "titleX": 213, "titleY": -8, "titleAlign": "center", "titleBaseline": "alphabetic", "titleAngle": 0, "titleFontSize": 17.5, "titleFontWeight": "bold"}}}},
 {"mark": {"type": "rule", "color": "#8c8c8c", "strokeWidth": 1.5},
  "encoding": {"y": {"datum": 0, "type": "quantitative", "scale": {"domain": [-3, 3], "nice": false, "zero": false},
   "axis": {"orient": "right", "values": [-2,-1,0,1,2], "labels": false, "grid": false, "ticks": true, "tickSize": -5,
    "title": "J", "titleX": -16.5, "titleY": -7.7, "titleAlign": "center", "titleBaseline": "alphabetic", "titleAngle": 0, "titleFontSize": 27, "titleFontWeight": "bold"}}}},
 {"data": {"name": "J_sp"}, "mark": {"type": "area", "interpolate": "monotone", "color": "#000000", "opacity": 0.07},
  "encoding": {"x": {"field": "lat", "type": "quantitative", "axis": null}, "y": {"field": "k_lo", "type": "quantitative", "axis": null}, "y2": {"field": "k_hi"}}},
 {"data": {"name": "J_sp"}, "mark": {"type": "area", "interpolate": "monotone", "color": "#ff0000", "opacity": 0.06},
  "encoding": {"x": {"field": "lat", "type": "quantitative", "axis": null}, "y": {"field": "r_lo", "type": "quantitative", "axis": null}, "y2": {"field": "r_hi"}}},
 {"data": {"name": "J_sp"}, "mark": {"type": "area", "interpolate": "monotone", "color": "#0000ff", "opacity": 0.06},
  "encoding": {"x": {"field": "lat", "type": "quantitative", "axis": null}, "y": {"field": "b_lo", "type": "quantitative", "axis": null}, "y2": {"field": "b_hi"}}},
 {"data": {"name": "J"},
  "transform": [{"fold": ["Moist Static Energy","Dry","Moisture (latent)"], "as": ["series","v"]}],
  "mark": {"type": "line", "interpolate": "monotone", "strokeWidth": 2.2},
  "encoding": {
   "x": {"field": "lat", "type": "quantitative", "axis": {"orient": "bottom", "values": [-80,-60,-40,-20,0,20,40,60,80], "labelExpr": "datum.value == 0 ? 'EQ' : (datum.value < 0 ? (-datum.value) + 'S' : datum.value + 'N')", "grid": true, "labelPadding": 3, "title": null}},
   "y": {"field": "v", "type": "quantitative", "axis": {"orient": "left", "values": [-2,-1,0,1,2], "labelExpr": "datum.value == 0 ? '0' : (datum.value < 0 ? '-' : '') + format(abs(datum.value), '.1f')", "grid": true, "labelPadding": 9,
     "title": "Heat Transport Change (PW)", "titleX": -51, "titleY": 134.3, "titleAngle": 270, "titleBaseline": "middle", "titleAlign": "center", "titleFontSize": 16, "titleFontWeight": "normal"}},
   "color": {"field": "series", "type": "nominal", "scale": {"domain": ["Moist Static Energy","Dry","Moisture (latent)"], "range": ["#000000","#ff0000","#0000ff"]},
     "legend": {"orient": "none", "legendX": 318, "legendY": 24, "direction": "vertical", "title": null, "symbolSize": 0, "symbolOpacity": 0, "symbolStrokeWidth": 0, "labelOffset": 0, "labelAlign": "center", "labelFontSize": 16, "labelFontWeight": "bold", "rowPadding": 2, "padding": 0,
       "labelColor": {"expr": "datum.label == 'MOC' || datum.label == 'Moisture (latent)' ? '#0000ff' : datum.label == 'Stationary Eddies' ? '#00a000' : (datum.label == 'Total' || datum.label == 'Moist Static Energy') ? '#111111' : '#ff0000'"}}}
  }}
],
"resolve": {"axis": {"x": "independent", "y": "independent"}}
}
],
"resolve": {"scale": {"x": "independent", "y": "independent", "color": "independent", "strokeDash": "independent"}, "legend": {"color": "independent", "strokeDash": "independent"}, "axis": {"x": "independent", "y": "independent"}}
}
